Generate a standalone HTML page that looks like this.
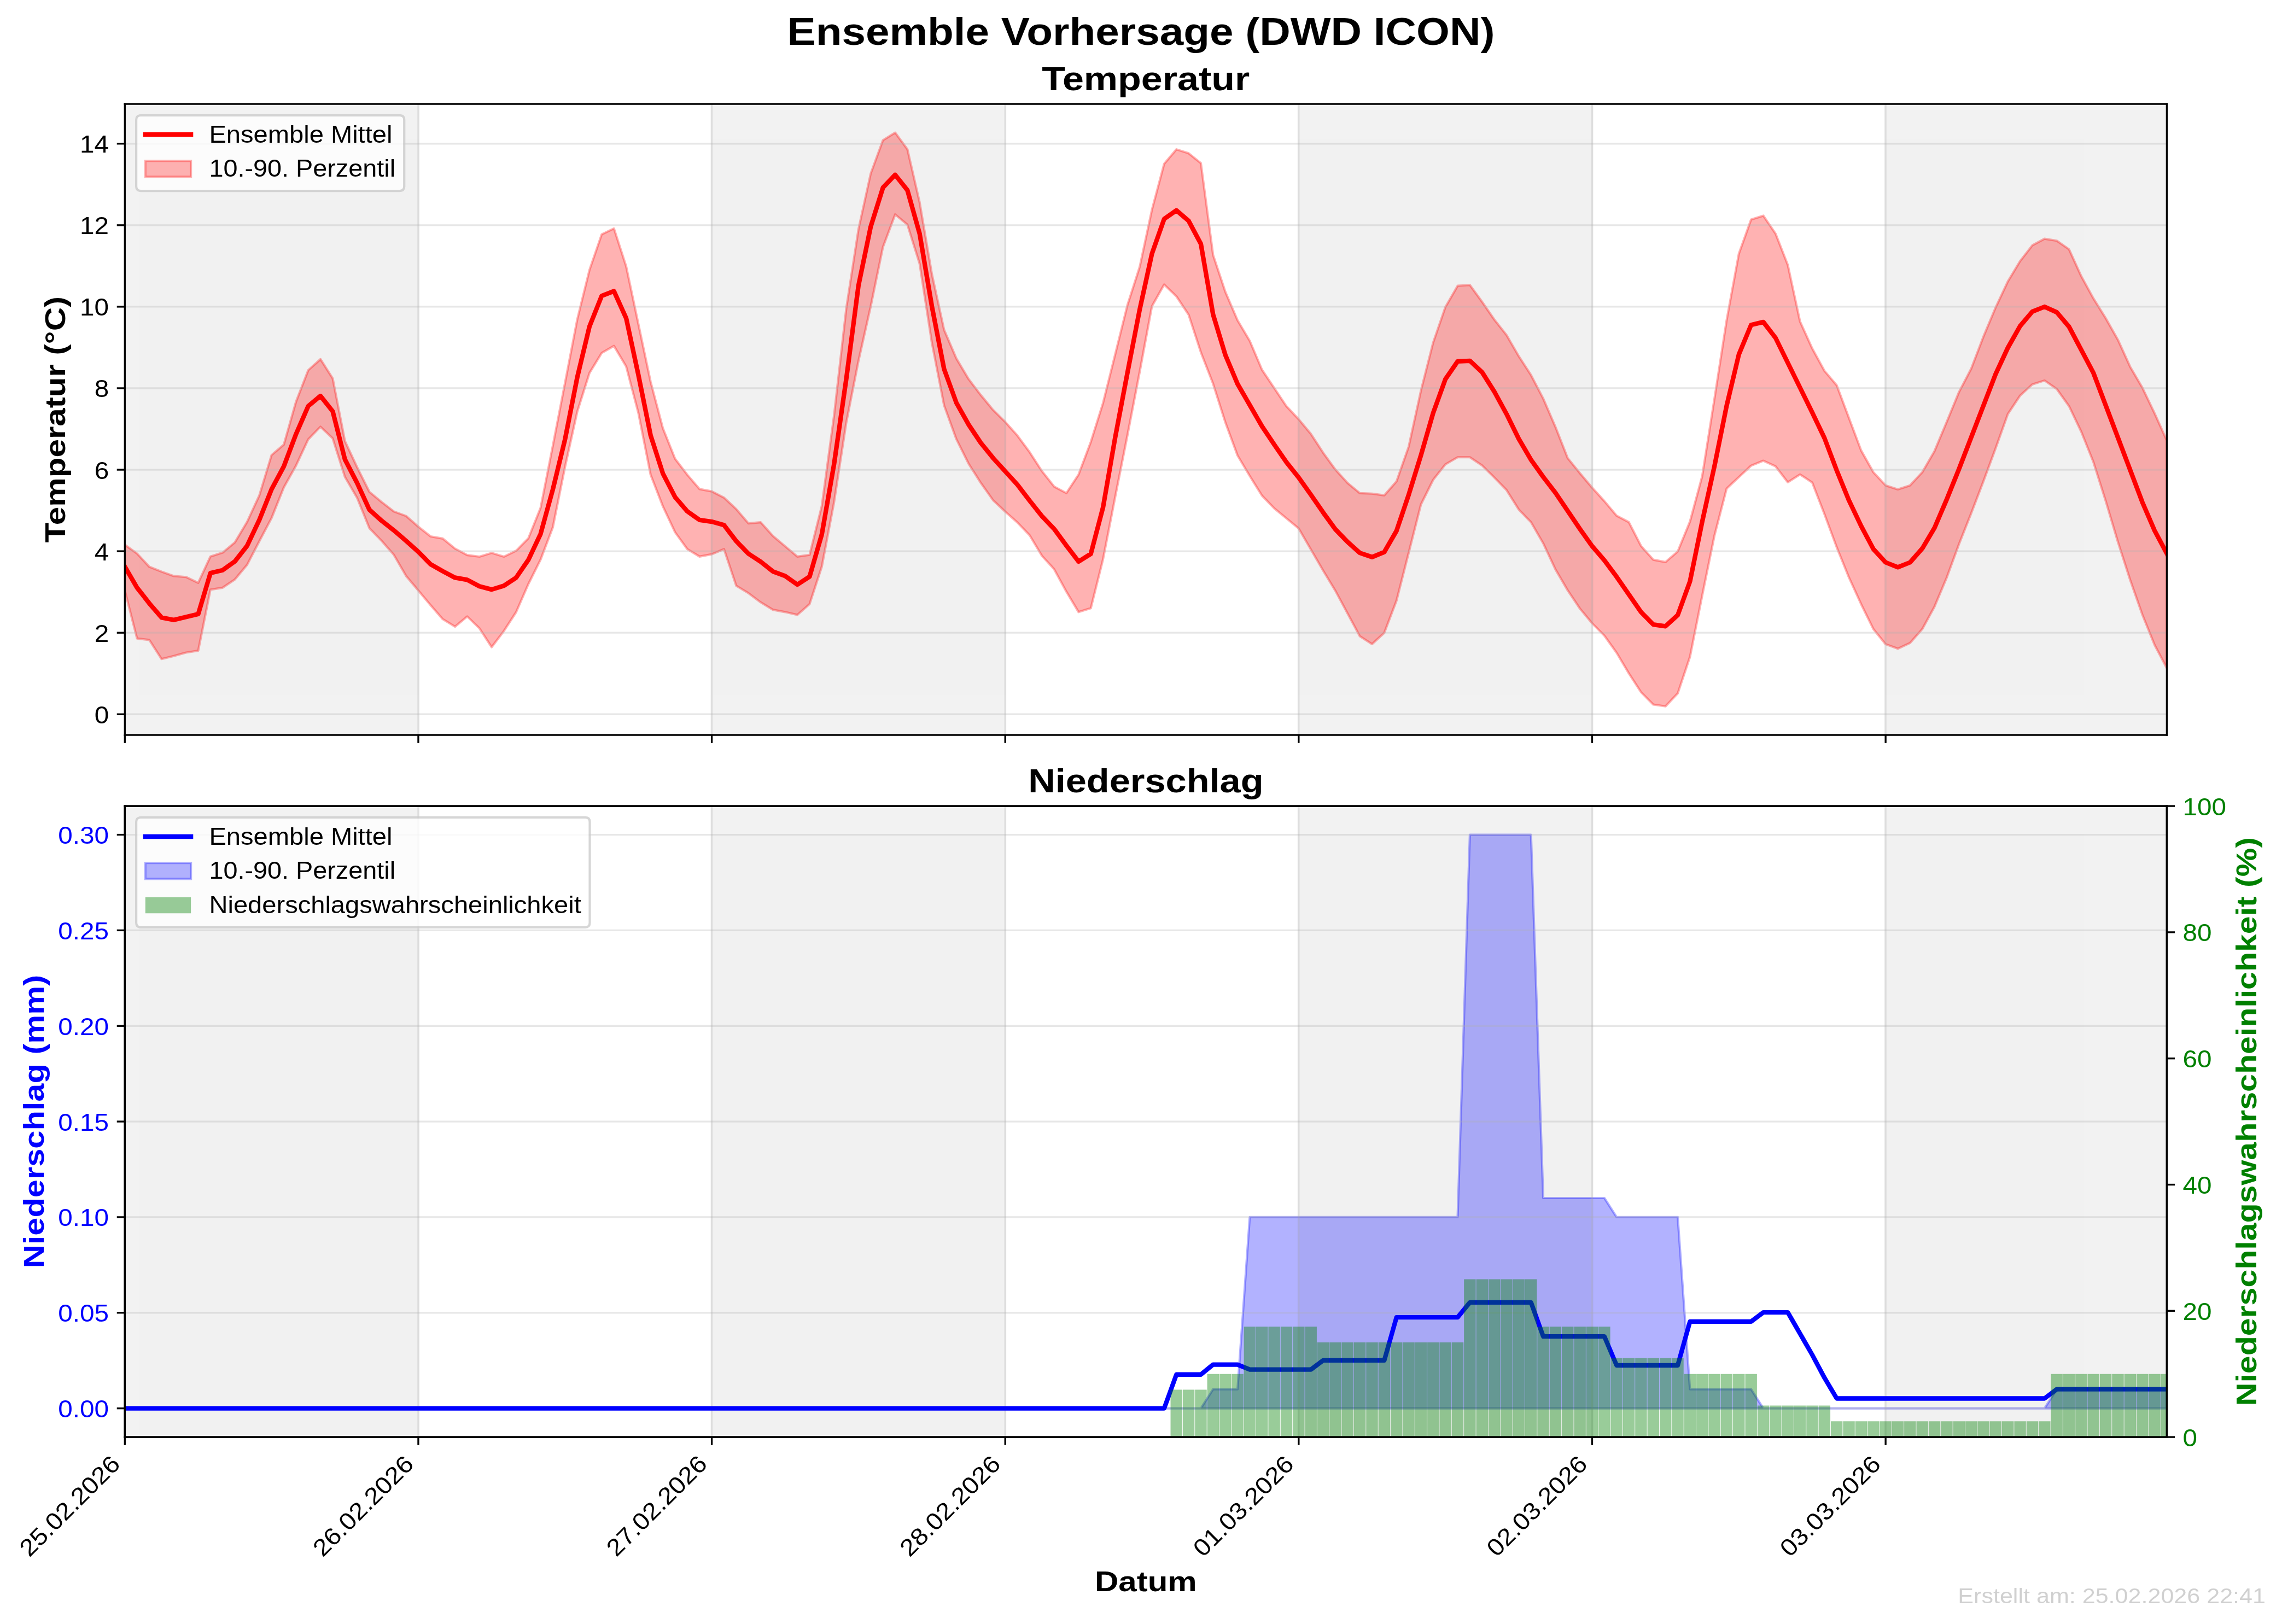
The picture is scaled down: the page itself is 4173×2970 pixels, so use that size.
<!DOCTYPE html>
<html><head><meta charset="utf-8"><title>Ensemble Vorhersage</title><style>html,body{margin:0;padding:0;background:#fff;}</style></head><body>


<svg width="4173" height="2970" viewBox="0 0 1001.52 712.8" style="display:block;will-change:transform">
  <defs>
  <style type="text/css">*{stroke-linejoin: round; stroke-linecap: butt}</style>
 </defs>
 <g id="figure_1">
  <g id="patch_1">
   <path d="M 0 712.8 L 1001.52 712.8 L 1001.52 0 L 0 0 z
" style="fill: #ffffff"/>
  </g>
  <g id="axes_1">
   <g id="patch_2">
    <path d="M 54.792 322.608 L 950.976 322.608 L 950.976 45.624 L 54.792 45.624 z
" style="fill: #ffffff"/>
   </g>
   <g id="patch_3">
    <path d="M 54.792 322.608 L 183.58491 322.608 L 183.58491 45.624 L 54.792 45.624 z
" clip-path="url(#p4535d0e13f)" style="fill: #808080; opacity: 0.1; stroke: #808080; stroke-linejoin: miter"/>
   </g>
   <g id="patch_4">
    <path d="M 312.37782 322.608 L 441.170731 322.608 L 441.170731 45.624 L 312.37782 45.624 z
" clip-path="url(#p4535d0e13f)" style="fill: #808080; opacity: 0.1; stroke: #808080; stroke-linejoin: miter"/>
   </g>
   <g id="patch_5">
    <path d="M 569.963641 322.608 L 698.756551 322.608 L 698.756551 45.624 L 569.963641 45.624 z
" clip-path="url(#p4535d0e13f)" style="fill: #808080; opacity: 0.1; stroke: #808080; stroke-linejoin: miter"/>
   </g>
   <g id="patch_6">
    <path d="M 827.549461 322.608 L 956.342371 322.608 L 956.342371 45.624 L 827.549461 45.624 z
" clip-path="url(#p4535d0e13f)" style="fill: #808080; opacity: 0.1; stroke: #808080; stroke-linejoin: miter"/>
   </g>
   <g id="FillBetweenPolyCollection_1">
    <defs>
     <path id="maa89b597c2" d="M 54.792 -473.68716 L 54.792 -453.551734 L 60.158371 -432.559481 L 65.524743 -431.916861 L 70.891114 -423.562801 L 76.257485 -424.848041 L 81.623856 -426.347488 L 86.990228 -427.204315 L 92.356599 -453.980147 L 97.72297 -454.836974 L 103.089341 -458.478487 L 108.455713 -464.904687 L 113.822084 -475.276265 L 119.188455 -485.433349 L 124.554826 -498.843539 L 129.921198 -508.447374 L 135.287569 -519.971975 L 140.65394 -525.503783 L 146.020311 -520.356128 L 151.386683 -503.45338 L 156.753054 -494.233699 L 162.119425 -480.941992 L 167.485796 -475.410184 L 172.852168 -469.26373 L 178.218539 -460.003283 L 183.58491 -453.619824 L 188.951281 -447.194477 L 194.317653 -441.046903 L 199.684024 -437.73667 L 205.050395 -442.229129 L 210.416766 -437.027335 L 215.783138 -428.751754 L 221.149509 -435.845109 L 226.51588 -444.12069 L 231.882251 -456.415839 L 237.248623 -467.178437 L 242.614994 -481.305551 L 247.981365 -507.878073 L 253.347737 -532.082448 L 258.714108 -549.0837 L 264.080479 -557.872234 L 269.44685 -560.974069 L 274.813222 -551.927049 L 280.179593 -531.506153 L 285.545964 -504.420305 L 290.912335 -490.589234 L 296.278707 -479.187879 L 301.645078 -471.779717 L 307.011449 -468.515548 L 312.37782 -469.519907 L 317.744192 -471.779717 L 323.110563 -455.709958 L 328.476934 -452.445788 L 333.843305 -448.428349 L 339.209677 -445.164179 L 344.576048 -444.159819 L 349.942419 -442.904369 L 355.30879 -447.675079 L 360.675162 -464.098422 L 366.041533 -492.292294 L 371.407904 -527.281473 L 376.774275 -554.41085 L 382.140647 -578.348535 L 387.507018 -604.346989 L 392.873389 -618.660845 L 398.23976 -614.170224 L 403.606132 -597.049729 L 408.972503 -562.390078 L 414.338874 -534.86174 L 419.705246 -520.100167 L 425.071617 -509.328209 L 430.437988 -500.870761 L 435.804359 -493.286383 L 441.170731 -488.233606 L 446.537102 -483.461539 L 451.903473 -477.847343 L 457.269844 -468.864628 L 462.636216 -462.969722 L 468.002587 -453.144878 L 473.368958 -444.162164 L 478.735329 -445.846423 L 484.101701 -467.364054 L 489.468072 -494.859346 L 494.834443 -521.873377 L 500.200814 -549.655124 L 505.567186 -578.402286 L 510.933557 -587.908179 L 516.299928 -582.723147 L 521.666299 -574.65754 L 527.032671 -558.187615 L 532.399042 -544.361193 L 537.765413 -527.462233 L 543.131784 -512.867677 L 548.498156 -503.878604 L 553.864527 -495.255039 L 559.230898 -489.713335 L 564.597269 -485.279971 L 569.963641 -480.846608 L 575.330012 -471.610434 L 580.696383 -462.37426 L 586.062754 -453.507534 L 591.429126 -443.532466 L 596.795497 -433.557398 L 602.161868 -430.084597 L 607.52824 -435.035186 L 612.894611 -449.136231 L 618.260982 -470.216549 L 623.627353 -491.402612 L 628.993725 -502.204908 L 634.360096 -508.987745 L 639.726467 -512.102826 L 645.092838 -512.102826 L 650.45921 -508.485313 L 655.825581 -503.209773 L 661.191952 -497.683016 L 666.558323 -489.141666 L 671.924695 -483.61491 L 677.291066 -474.319911 L 682.657437 -462.878569 L 688.023808 -453.6963 L 693.39018 -445.684434 L 698.756551 -439.223251 L 704.122922 -433.795858 L 709.489293 -426.300886 L 714.855665 -417.255231 L 720.222036 -408.984917 L 725.588407 -403.557524 L 730.954778 -402.782182 L 736.32115 -408.468022 L 741.687521 -424.491755 L 747.053892 -451.370274 L 752.420263 -477.668951 L 757.786635 -498.358107 L 763.153006 -503.382617 L 768.519377 -508.407126 L 773.885749 -510.594266 L 779.25212 -508.111567 L 784.618491 -501.136366 L 789.984862 -504.564854 L 795.351234 -501.018142 L 800.717605 -487.126851 L 806.083976 -472.644441 L 811.450347 -459.372142 L 816.816719 -447.608996 L 822.18309 -436.704655 L 827.549461 -430.055667 L 832.915832 -428.087566 L 838.282204 -430.587586 L 843.648575 -436.704655 L 849.014946 -446.545158 L 854.381317 -459.311216 L 859.747689 -473.938991 L 865.11406 -487.489254 L 870.480431 -501.540985 L 875.846802 -516.052303 L 881.213174 -531.098667 L 886.579545 -539.163111 L 891.945916 -544.059381 L 897.312287 -545.787476 L 902.678659 -542.04327 L 908.04503 -534.554857 L 913.411401 -523.322238 L 918.777772 -509.93506 L 924.144144 -492.942719 L 929.510515 -474.930838 L 934.876886 -458.278344 L 940.243257 -442.985237 L 945.609629 -429.731212 L 950.976 -419.535807 L 950.976 -519.450771 L 950.976 -519.450771 L 945.609629 -531.386683 L 940.243257 -542.619302 L 934.876886 -551.83581 L 929.510515 -563.64446 L 924.144144 -573.148984 L 918.777772 -581.78946 L 913.411401 -591.582 L 908.04503 -603.390651 L 902.678659 -607.134857 L 897.312287 -607.998905 L 891.945916 -605.118746 L 886.579545 -598.206365 L 881.213174 -589.277873 L 875.846802 -577.846313 L 870.480431 -565.039651 L 865.11406 -550.977434 L 859.747689 -540.681883 L 854.381317 -527.62411 L 849.014946 -514.817449 L 843.648575 -505.526341 L 838.282204 -499.750788 L 832.915832 -497.993011 L 827.549461 -499.750788 L 822.18309 -505.526341 L 816.816719 -515.06856 L 811.450347 -529.381887 L 806.083976 -543.695215 L 800.717605 -550.015784 L 795.351234 -559.836782 L 789.984862 -571.725357 L 784.618491 -596.536298 L 779.25212 -610.234005 L 773.885749 -618.142493 L 768.519377 -616.436741 L 763.153006 -601.446797 L 757.786635 -572.242252 L 752.420263 -537.667505 L 747.053892 -503.783778 L 741.687521 -483.86107 L 736.32115 -470.753822 L 730.954778 -466.101771 L 725.588407 -467.13556 L 720.222036 -473.153168 L 714.855665 -483.624746 L 709.489293 -486.460635 L 704.122922 -492.841385 L 698.756551 -498.749486 L 693.39018 -505.130236 L 688.023808 -511.74731 L 682.657437 -525.394063 L 677.291066 -537.865046 L 671.924695 -548.16491 L 666.558323 -556.455044 L 661.191952 -565.750043 L 655.825581 -572.53288 L 650.45921 -580.320582 L 645.092838 -587.706338 L 639.726467 -587.354635 L 634.360096 -578.059636 L 628.993725 -562.484232 L 623.627353 -541.382073 L 618.260982 -516.82417 L 612.894611 -501.493448 L 607.52824 -495.402818 L 602.161868 -496.141712 L 596.795497 -496.36338 L 591.429126 -500.796743 L 586.062754 -506.707894 L 580.696383 -514.096833 L 575.330012 -522.320936 L 569.963641 -528.784068 L 564.597269 -534.471624 L 559.230898 -542.485908 L 553.864527 -550.500192 L 548.498156 -563.16793 L 543.131784 -572.216315 L 537.765413 -584.739548 L 532.399042 -600.870761 L 527.032671 -641.198793 L 521.666299 -645.519653 L 516.299928 -647.247998 L 510.933557 -640.910735 L 505.567186 -620.74672 L 500.200814 -595.685728 L 494.834443 -578.978401 L 489.468072 -557.41948 L 484.101701 -535.911713 L 478.735329 -518.830978 L 473.368958 -504.514776 L 468.002587 -496.374191 L 462.636216 -499.248566 L 457.269844 -506.028563 L 451.903473 -514.315227 L 446.537102 -521.597446 L 441.170731 -527.62411 L 435.804359 -532.897442 L 430.437988 -539.426328 L 425.071617 -546.457436 L 419.705246 -555.497433 L 414.338874 -568.052983 L 408.972503 -592.559107 L 403.606132 -623.993458 L 398.23976 -647.288558 L 392.873389 -654.585818 L 387.507018 -651.217852 L 382.140647 -636.623332 L 376.774275 -612.205577 L 371.407904 -577.397143 L 366.041533 -530.366243 L 360.675162 -490.719789 L 355.30879 -469.268817 L 349.942419 -468.515548 L 344.576048 -473.035167 L 339.209677 -477.554787 L 333.843305 -483.580947 L 328.476934 -483.078767 L 323.110563 -489.356016 L 317.744192 -494.377816 L 312.37782 -497.139806 L 307.011449 -498.144166 L 301.645078 -504.421416 L 296.278707 -511.451518 L 290.912335 -524.878765 L 285.545964 -545.221966 L 280.179593 -570.545842 L 274.813222 -595.869717 L 269.44685 -612.516234 L 264.080479 -609.931371 L 258.714108 -594.3188 L 253.347737 -572.605952 L 247.981365 -544.76093 L 242.614994 -517.098787 L 237.248623 -489.883774 L 231.882251 -476.513679 L 226.51588 -471.07544 L 221.149509 -468.474543 L 215.783138 -470.129659 L 210.416766 -468.474543 L 205.050395 -469.183878 L 199.684024 -472.021221 L 194.317653 -476.419101 L 188.951281 -477.364882 L 183.58491 -481.636055 L 178.218539 -486.334969 L 172.852168 -488.317737 L 167.485796 -492.466593 L 162.119425 -496.922773 L 156.753054 -507.679067 L 151.386683 -519.203668 L 146.020311 -546.709049 L 140.65394 -555.160423 L 135.287569 -550.32009 L 129.921198 -536.490569 L 124.554826 -517.667054 L 119.188455 -513.057214 L 113.822084 -495.386159 L 108.455713 -483.754873 L 103.089341 -474.758193 L 97.72297 -470.259854 L 92.356599 -468.5462 L 86.990228 -456.979041 L 81.623856 -459.54952 L 76.257485 -459.977934 L 70.891114 -461.905794 L 65.524743 -464.04786 L 60.158371 -469.83144 L 54.792 -473.68716 z
" style="stroke: #ff0000; stroke-opacity: 0.3"/>
    </defs>
    <g clip-path="url(#p4535d0e13f)">
     <use href="#maa89b597c2" x="0" y="712.8" style="fill: #ff0000; fill-opacity: 0.3; stroke: #ff0000; stroke-opacity: 0.3"/>
    </g>
   </g>
   <g id="matplotlib.axis_1">
    <g id="xtick_1">
     <g id="line2d_1">
      <path d="M 54.792 322.608 L 54.792 45.624 " clip-path="url(#p4535d0e13f)" style="fill: none; stroke: #b0b0b0; stroke-opacity: 0.3; stroke-width: 0.8; stroke-linecap: square"/>
     </g>
     <g id="line2d_2">
      <defs>
       <path id="m2624971876" d="M 0 0 L 0 3.5 " style="stroke: #000000; stroke-width: 0.8"/>
      </defs>
      <g>
       <use href="#m2624971876" x="54.792" y="322.608" style="stroke: #000000; stroke-width: 0.8"/>
      </g>
     </g>
    </g>
    <g id="xtick_2">
     <g id="line2d_3">
      <path d="M 183.58491 322.608 L 183.58491 45.624 " clip-path="url(#p4535d0e13f)" style="fill: none; stroke: #b0b0b0; stroke-opacity: 0.3; stroke-width: 0.8; stroke-linecap: square"/>
     </g>
     <g id="line2d_4">
      <g>
       <use href="#m2624971876" x="183.58491" y="322.608" style="stroke: #000000; stroke-width: 0.8"/>
      </g>
     </g>
    </g>
    <g id="xtick_3">
     <g id="line2d_5">
      <path d="M 312.37782 322.608 L 312.37782 45.624 " clip-path="url(#p4535d0e13f)" style="fill: none; stroke: #b0b0b0; stroke-opacity: 0.3; stroke-width: 0.8; stroke-linecap: square"/>
     </g>
     <g id="line2d_6">
      <g>
       <use href="#m2624971876" x="312.37782" y="322.608" style="stroke: #000000; stroke-width: 0.8"/>
      </g>
     </g>
    </g>
    <g id="xtick_4">
     <g id="line2d_7">
      <path d="M 441.170731 322.608 L 441.170731 45.624 " clip-path="url(#p4535d0e13f)" style="fill: none; stroke: #b0b0b0; stroke-opacity: 0.3; stroke-width: 0.8; stroke-linecap: square"/>
     </g>
     <g id="line2d_8">
      <g>
       <use href="#m2624971876" x="441.170731" y="322.608" style="stroke: #000000; stroke-width: 0.8"/>
      </g>
     </g>
    </g>
    <g id="xtick_5">
     <g id="line2d_9">
      <path d="M 569.963641 322.608 L 569.963641 45.624 " clip-path="url(#p4535d0e13f)" style="fill: none; stroke: #b0b0b0; stroke-opacity: 0.3; stroke-width: 0.8; stroke-linecap: square"/>
     </g>
     <g id="line2d_10">
      <g>
       <use href="#m2624971876" x="569.963641" y="322.608" style="stroke: #000000; stroke-width: 0.8"/>
      </g>
     </g>
    </g>
    <g id="xtick_6">
     <g id="line2d_11">
      <path d="M 698.756551 322.608 L 698.756551 45.624 " clip-path="url(#p4535d0e13f)" style="fill: none; stroke: #b0b0b0; stroke-opacity: 0.3; stroke-width: 0.8; stroke-linecap: square"/>
     </g>
     <g id="line2d_12">
      <g>
       <use href="#m2624971876" x="698.756551" y="322.608" style="stroke: #000000; stroke-width: 0.8"/>
      </g>
     </g>
    </g>
    <g id="xtick_7">
     <g id="line2d_13">
      <path d="M 827.549461 322.608 L 827.549461 45.624 " clip-path="url(#p4535d0e13f)" style="fill: none; stroke: #b0b0b0; stroke-opacity: 0.3; stroke-width: 0.8; stroke-linecap: square"/>
     </g>
     <g id="line2d_14">
      <g>
       <use href="#m2624971876" x="827.549461" y="322.608" style="stroke: #000000; stroke-width: 0.8"/>
      </g>
     </g>
    </g>
   </g>
   <g id="matplotlib.axis_2">
    <g id="ytick_1">
     <g id="line2d_15">
      <path d="M 54.792 313.497388 L 950.976 313.497388 " clip-path="url(#p4535d0e13f)" style="fill: none; stroke: #b0b0b0; stroke-opacity: 0.3; stroke-width: 0.8; stroke-linecap: square"/>
     </g>
     <g id="line2d_16">
      <defs>
       <path id="m23702a139f" d="M 0 0 L -3.5 0 " style="stroke: #000000; stroke-width: 0.8"/>
      </defs>
      <g>
       <use href="#m23702a139f" x="54.792" y="313.497388" style="stroke: #000000; stroke-width: 0.8"/>
      </g>
     </g>
     <g id="text_1">
      <text style='font-size: 10.500px; font-family: "Liberation Sans", sans-serif; text-anchor: end' x="47.792" y="317.457388" transform="rotate(-0 47.792 317.457388)" textLength="6.362" lengthAdjust="spacingAndGlyphs">0</text>
     </g>
    </g>
    <g id="ytick_2">
     <g id="line2d_17">
      <path d="M 54.792 277.721791 L 950.976 277.721791 " clip-path="url(#p4535d0e13f)" style="fill: none; stroke: #b0b0b0; stroke-opacity: 0.3; stroke-width: 0.8; stroke-linecap: square"/>
     </g>
     <g id="line2d_18">
      <g>
       <use href="#m23702a139f" x="54.792" y="277.721791" style="stroke: #000000; stroke-width: 0.8"/>
      </g>
     </g>
     <g id="text_2">
      <text style='font-size: 10.500px; font-family: "Liberation Sans", sans-serif; text-anchor: end' x="47.792" y="281.681791" transform="rotate(-0 47.792 281.681791)" textLength="6.362" lengthAdjust="spacingAndGlyphs">2</text>
     </g>
    </g>
    <g id="ytick_3">
     <g id="line2d_19">
      <path d="M 54.792 241.946194 L 950.976 241.946194 " clip-path="url(#p4535d0e13f)" style="fill: none; stroke: #b0b0b0; stroke-opacity: 0.3; stroke-width: 0.8; stroke-linecap: square"/>
     </g>
     <g id="line2d_20">
      <g>
       <use href="#m23702a139f" x="54.792" y="241.946194" style="stroke: #000000; stroke-width: 0.8"/>
      </g>
     </g>
     <g id="text_3">
      <text style='font-size: 10.500px; font-family: "Liberation Sans", sans-serif; text-anchor: end' x="47.792" y="245.906194" transform="rotate(-0 47.792 245.906194)" textLength="6.362" lengthAdjust="spacingAndGlyphs">4</text>
     </g>
    </g>
    <g id="ytick_4">
     <g id="line2d_21">
      <path d="M 54.792 206.170597 L 950.976 206.170597 " clip-path="url(#p4535d0e13f)" style="fill: none; stroke: #b0b0b0; stroke-opacity: 0.3; stroke-width: 0.8; stroke-linecap: square"/>
     </g>
     <g id="line2d_22">
      <g>
       <use href="#m23702a139f" x="54.792" y="206.170597" style="stroke: #000000; stroke-width: 0.8"/>
      </g>
     </g>
     <g id="text_4">
      <text style='font-size: 10.500px; font-family: "Liberation Sans", sans-serif; text-anchor: end' x="47.792" y="210.130597" transform="rotate(-0 47.792 210.130597)" textLength="6.362" lengthAdjust="spacingAndGlyphs">6</text>
     </g>
    </g>
    <g id="ytick_5">
     <g id="line2d_23">
      <path d="M 54.792 170.395 L 950.976 170.395 " clip-path="url(#p4535d0e13f)" style="fill: none; stroke: #b0b0b0; stroke-opacity: 0.3; stroke-width: 0.8; stroke-linecap: square"/>
     </g>
     <g id="line2d_24">
      <g>
       <use href="#m23702a139f" x="54.792" y="170.395" style="stroke: #000000; stroke-width: 0.8"/>
      </g>
     </g>
     <g id="text_5">
      <text style='font-size: 10.500px; font-family: "Liberation Sans", sans-serif; text-anchor: end' x="47.792" y="174.355" transform="rotate(-0 47.792 174.355)" textLength="6.362" lengthAdjust="spacingAndGlyphs">8</text>
     </g>
    </g>
    <g id="ytick_6">
     <g id="line2d_25">
      <path d="M 54.792 134.619403 L 950.976 134.619403 " clip-path="url(#p4535d0e13f)" style="fill: none; stroke: #b0b0b0; stroke-opacity: 0.3; stroke-width: 0.8; stroke-linecap: square"/>
     </g>
     <g id="line2d_26">
      <g>
       <use href="#m23702a139f" x="54.792" y="134.619403" style="stroke: #000000; stroke-width: 0.8"/>
      </g>
     </g>
     <g id="text_6">
      <text style='font-size: 10.500px; font-family: "Liberation Sans", sans-serif; text-anchor: end' x="47.792" y="138.579403" transform="rotate(-0 47.792 138.579403)" textLength="12.725" lengthAdjust="spacingAndGlyphs">10</text>
     </g>
    </g>
    <g id="ytick_7">
     <g id="line2d_27">
      <path d="M 54.792 98.843806 L 950.976 98.843806 " clip-path="url(#p4535d0e13f)" style="fill: none; stroke: #b0b0b0; stroke-opacity: 0.3; stroke-width: 0.8; stroke-linecap: square"/>
     </g>
     <g id="line2d_28">
      <g>
       <use href="#m23702a139f" x="54.792" y="98.843806" style="stroke: #000000; stroke-width: 0.8"/>
      </g>
     </g>
     <g id="text_7">
      <text style='font-size: 10.500px; font-family: "Liberation Sans", sans-serif; text-anchor: end' x="47.792" y="102.803806" transform="rotate(-0 47.792 102.803806)" textLength="12.725" lengthAdjust="spacingAndGlyphs">12</text>
     </g>
    </g>
    <g id="ytick_8">
     <g id="line2d_29">
      <path d="M 54.792 63.068209 L 950.976 63.068209 " clip-path="url(#p4535d0e13f)" style="fill: none; stroke: #b0b0b0; stroke-opacity: 0.3; stroke-width: 0.8; stroke-linecap: square"/>
     </g>
     <g id="line2d_30">
      <g>
       <use href="#m23702a139f" x="54.792" y="63.068209" style="stroke: #000000; stroke-width: 0.8"/>
      </g>
     </g>
     <g id="text_8">
      <text style='font-size: 10.500px; font-family: "Liberation Sans", sans-serif; text-anchor: end' x="47.792" y="67.028209" transform="rotate(-0 47.792 67.028209)" textLength="12.725" lengthAdjust="spacingAndGlyphs">14</text>
     </g>
    </g>
    <g id="text_9">
     <text style='font-weight: 700; font-size: 12.600px; font-family: "Liberation Sans", sans-serif; text-anchor: middle' x="28.672" y="184.116" transform="rotate(-90 28.672 184.116)" textLength="108.129" lengthAdjust="spacingAndGlyphs">Temperatur (°C)</text>
    </g>
   </g>
   <g id="line2d_31">
    <path d="M 54.792 248.75214 L 60.158371 257.963026 L 65.524743 264.817639 L 70.891114 271.029632 L 76.257485 272.100666 L 86.990228 269.530186 L 92.356599 251.536826 L 97.72297 250.251586 L 103.089341 246.395866 L 108.455713 239.541253 L 113.822084 228.1883 L 119.188455 214.724767 L 124.554826 204.73678 L 129.921198 190.523105 L 135.287569 178.230198 L 140.65394 173.774018 L 146.020311 180.535118 L 151.386683 201.663553 L 156.753054 212.035694 L 162.119425 223.713956 L 167.485796 228.554289 L 172.852168 232.779976 L 178.218539 237.384813 L 183.58491 242.172408 L 188.951281 247.635689 L 194.317653 250.709477 L 199.684024 253.546819 L 205.050395 254.4926 L 210.416766 257.329942 L 215.783138 258.748613 L 221.149509 257.093496 L 226.51588 253.546819 L 231.882251 245.744128 L 237.248623 234.353857 L 242.614994 214.862596 L 247.981365 192.819739 L 253.347737 165.618632 L 258.714108 143.295884 L 264.080479 129.854597 L 269.44685 127.786707 L 274.813222 139.677076 L 280.179593 164.581302 L 285.545964 191.090856 L 290.912335 207.8034 L 296.278707 218.192428 L 301.645078 224.448344 L 307.011449 228.214693 L 312.37782 228.967963 L 317.744192 230.474503 L 323.110563 237.505023 L 328.476934 243.029003 L 333.843305 246.544262 L 339.209677 250.812792 L 344.576048 252.821512 L 349.942419 256.587862 L 355.30879 253.072602 L 360.675162 234.541362 L 366.041533 203.785877 L 371.407904 166.368379 L 376.774275 125.284097 L 382.140647 99.471768 L 387.507018 82.351273 L 392.873389 76.737996 L 398.23976 83.473928 L 403.606132 102.55907 L 408.972503 134.39989 L 414.338874 161.979803 L 419.705246 176.741376 L 425.071617 186.31645 L 430.437988 194.368854 L 435.804359 200.986768 L 446.537102 212.776581 L 451.903473 219.794326 L 457.269844 226.531362 L 462.636216 232.145559 L 468.002587 239.444014 L 473.368958 246.46176 L 478.735329 243.093242 L 484.101701 222.666909 L 489.468072 191.790304 L 494.834443 163.480752 L 500.200814 135.793089 L 505.567186 111.353124 L 510.933557 96.086084 L 516.299928 92.341338 L 521.666299 96.950256 L 527.032671 107.032264 L 532.399042 138.050137 L 537.765413 155.764587 L 543.131784 168.504415 L 553.864527 187.118235 L 559.230898 195.132519 L 564.597269 202.888278 L 569.963641 209.609935 L 575.330012 217.175514 L 580.696383 224.9339 L 586.062754 232.322839 L 591.429126 237.864543 L 596.795497 242.667354 L 602.161868 244.514588 L 607.52824 242.297907 L 612.894611 233.007533 L 618.260982 217.091998 L 623.627353 199.792796 L 628.993725 181.215359 L 634.360096 166.393604 L 639.726467 158.605902 L 645.092838 158.354686 L 650.45921 163.379009 L 655.825581 171.92036 L 661.191952 181.717791 L 666.558323 192.639415 L 671.924695 201.802526 L 677.291066 209.339011 L 682.657437 216.305032 L 693.39018 232.17347 L 698.756551 239.720152 L 704.122922 245.922888 L 709.489293 253.159412 L 720.222036 268.66625 L 725.588407 274.093643 L 730.954778 274.868985 L 736.32115 269.958487 L 741.687521 255.22699 L 747.053892 228.990641 L 752.420263 204.688433 L 757.786635 178.088089 L 763.153006 155.547691 L 768.519377 142.625326 L 773.885749 141.33309 L 779.25212 148.311167 L 795.351234 181.066262 L 800.717605 192.274939 L 806.083976 206.461789 L 811.450347 219.618762 L 816.816719 230.882223 L 822.18309 240.988686 L 827.549461 246.839796 L 832.915832 248.967472 L 838.282204 246.839796 L 843.648575 240.722726 L 849.014946 231.680102 L 854.381317 219.180004 L 859.747689 205.882027 L 875.846802 164.132365 L 881.213174 152.61173 L 886.579545 143.107206 L 891.945916 136.770857 L 897.312287 134.63954 L 902.678659 137.058873 L 908.04503 143.395222 L 918.777772 163.720663 L 940.243257 220.459724 L 945.609629 232.887138 L 950.976 242.939428 L 950.976 242.939428 " clip-path="url(#p4535d0e13f)" style="fill: none; stroke: #ff0000; stroke-width: 2; stroke-linecap: square"/>
   </g>
   <g id="patch_7">
    <path d="M 54.792 322.608 L 54.792 45.624 " style="fill: none; stroke: #000000; stroke-width: 0.8; stroke-linejoin: miter; stroke-linecap: square"/>
   </g>
   <g id="patch_8">
    <path d="M 950.976 322.608 L 950.976 45.624 " style="fill: none; stroke: #000000; stroke-width: 0.8; stroke-linejoin: miter; stroke-linecap: square"/>
   </g>
   <g id="patch_9">
    <path d="M 54.792 322.608 L 950.976 322.608 " style="fill: none; stroke: #000000; stroke-width: 0.8; stroke-linejoin: miter; stroke-linecap: square"/>
   </g>
   <g id="patch_10">
    <path d="M 54.792 45.624 L 950.976 45.624 " style="fill: none; stroke: #000000; stroke-width: 0.8; stroke-linejoin: miter; stroke-linecap: square"/>
   </g>
   <g id="text_10">
    <text style='font-weight: 700; font-size: 14.700px; font-family: "Liberation Sans", sans-serif; text-anchor: middle' x="502.884" y="39.624" transform="rotate(-0 502.884 39.624)" textLength="91.206" lengthAdjust="spacingAndGlyphs">Temperatur</text>
   </g>
   <g id="legend_1">
    <g id="patch_11">
     <path d="M 61.792 83.784 L 175.422 83.784 Q 177.422 83.784 177.422 81.784 L 177.422 52.624 Q 177.422 50.624 175.422 50.624 L 61.792 50.624 Q 59.792 50.624 59.792 52.624 L 59.792 81.784 Q 59.792 83.784 61.792 83.784 z
" style="fill: #ffffff; opacity: 0.8; stroke: #cccccc; stroke-linejoin: miter"/>
    </g>
    <g id="line2d_32">
     <path d="M 63.792 59.044 L 73.792 59.044 L 83.792 59.044 " style="fill: none; stroke: #ff0000; stroke-width: 2; stroke-linecap: square"/>
    </g>
    <g id="text_11">
     <text style='font-size: 10.500px; font-family: "Liberation Sans", sans-serif; text-anchor: start' x="91.792" y="62.544" transform="rotate(-0 91.792 62.544)" textLength="80.396" lengthAdjust="spacingAndGlyphs">Ensemble Mittel</text>
    </g>
    <g id="patch_12">
     <path d="M 63.792 77.624 L 83.792 77.624 L 83.792 70.624 L 63.792 70.624 z
" style="fill: #ff0000; fill-opacity: 0.3; stroke: #ff0000; stroke-opacity: 0.3; stroke-linejoin: miter"/>
    </g>
    <g id="text_12">
     <text style='font-size: 10.500px; font-family: "Liberation Sans", sans-serif; text-anchor: start' x="91.792" y="77.624" transform="rotate(-0 91.792 77.624)" textLength="81.749" lengthAdjust="spacingAndGlyphs">10.-90. Perzentil</text>
    </g>
   </g>
  </g>
  <g id="axes_2">
   <g id="patch_13">
    <path d="M 54.792 630.744 L 950.976 630.744 L 950.976 353.784 L 54.792 353.784 z
" style="fill: #ffffff"/>
   </g>
   <g id="patch_14">
    <path d="M 54.792 630.744 L 183.58491 630.744 L 183.58491 353.784 L 54.792 353.784 z
" clip-path="url(#p49764ec67e)" style="fill: #808080; opacity: 0.1; stroke: #808080; stroke-linejoin: miter"/>
   </g>
   <g id="patch_15">
    <path d="M 312.37782 630.744 L 441.170731 630.744 L 441.170731 353.784 L 312.37782 353.784 z
" clip-path="url(#p49764ec67e)" style="fill: #808080; opacity: 0.1; stroke: #808080; stroke-linejoin: miter"/>
   </g>
   <g id="patch_16">
    <path d="M 569.963641 630.744 L 698.756551 630.744 L 698.756551 353.784 L 569.963641 353.784 z
" clip-path="url(#p49764ec67e)" style="fill: #808080; opacity: 0.1; stroke: #808080; stroke-linejoin: miter"/>
   </g>
   <g id="patch_17">
    <path d="M 827.549461 630.744 L 956.342371 630.744 L 956.342371 353.784 L 827.549461 353.784 z
" clip-path="url(#p49764ec67e)" style="fill: #808080; opacity: 0.1; stroke: #808080; stroke-linejoin: miter"/>
   </g>
   <g id="FillBetweenPolyCollection_2">
    <defs>
     <path id="mdaa3f5fe73" d="M 54.792 -94.645091 L 54.792 -94.645091 L 60.158371 -94.645091 L 65.524743 -94.645091 L 70.891114 -94.645091 L 76.257485 -94.645091 L 81.623856 -94.645091 L 86.990228 -94.645091 L 92.356599 -94.645091 L 97.72297 -94.645091 L 103.089341 -94.645091 L 108.455713 -94.645091 L 113.822084 -94.645091 L 119.188455 -94.645091 L 124.554826 -94.645091 L 129.921198 -94.645091 L 135.287569 -94.645091 L 140.65394 -94.645091 L 146.020311 -94.645091 L 151.386683 -94.645091 L 156.753054 -94.645091 L 162.119425 -94.645091 L 167.485796 -94.645091 L 172.852168 -94.645091 L 178.218539 -94.645091 L 183.58491 -94.645091 L 188.951281 -94.645091 L 194.317653 -94.645091 L 199.684024 -94.645091 L 205.050395 -94.645091 L 210.416766 -94.645091 L 215.783138 -94.645091 L 221.149509 -94.645091 L 226.51588 -94.645091 L 231.882251 -94.645091 L 237.248623 -94.645091 L 242.614994 -94.645091 L 247.981365 -94.645091 L 253.347737 -94.645091 L 258.714108 -94.645091 L 264.080479 -94.645091 L 269.44685 -94.645091 L 274.813222 -94.645091 L 280.179593 -94.645091 L 285.545964 -94.645091 L 290.912335 -94.645091 L 296.278707 -94.645091 L 301.645078 -94.645091 L 307.011449 -94.645091 L 312.37782 -94.645091 L 317.744192 -94.645091 L 323.110563 -94.645091 L 328.476934 -94.645091 L 333.843305 -94.645091 L 339.209677 -94.645091 L 344.576048 -94.645091 L 349.942419 -94.645091 L 355.30879 -94.645091 L 360.675162 -94.645091 L 366.041533 -94.645091 L 371.407904 -94.645091 L 376.774275 -94.645091 L 382.140647 -94.645091 L 387.507018 -94.645091 L 392.873389 -94.645091 L 398.23976 -94.645091 L 403.606132 -94.645091 L 408.972503 -94.645091 L 414.338874 -94.645091 L 419.705246 -94.645091 L 425.071617 -94.645091 L 430.437988 -94.645091 L 435.804359 -94.645091 L 441.170731 -94.645091 L 446.537102 -94.645091 L 451.903473 -94.645091 L 457.269844 -94.645091 L 462.636216 -94.645091 L 468.002587 -94.645091 L 473.368958 -94.645091 L 478.735329 -94.645091 L 484.101701 -94.645091 L 489.468072 -94.645091 L 494.834443 -94.645091 L 500.200814 -94.645091 L 505.567186 -94.645091 L 510.933557 -94.645091 L 516.299928 -94.645091 L 521.666299 -94.645091 L 527.032671 -94.645091 L 532.399042 -94.645091 L 537.765413 -94.645091 L 543.131784 -94.645091 L 548.498156 -94.645091 L 553.864527 -94.645091 L 559.230898 -94.645091 L 564.597269 -94.645091 L 569.963641 -94.645091 L 575.330012 -94.645091 L 580.696383 -94.645091 L 586.062754 -94.645091 L 591.429126 -94.645091 L 596.795497 -94.645091 L 602.161868 -94.645091 L 607.52824 -94.645091 L 612.894611 -94.645091 L 618.260982 -94.645091 L 623.627353 -94.645091 L 628.993725 -94.645091 L 634.360096 -94.645091 L 639.726467 -94.645091 L 645.092838 -94.645091 L 650.45921 -94.645091 L 655.825581 -94.645091 L 661.191952 -94.645091 L 666.558323 -94.645091 L 671.924695 -94.645091 L 677.291066 -94.645091 L 682.657437 -94.645091 L 688.023808 -94.645091 L 693.39018 -94.645091 L 698.756551 -94.645091 L 704.122922 -94.645091 L 709.489293 -94.645091 L 714.855665 -94.645091 L 720.222036 -94.645091 L 725.588407 -94.645091 L 730.954778 -94.645091 L 736.32115 -94.645091 L 741.687521 -94.645091 L 747.053892 -94.645091 L 752.420263 -94.645091 L 757.786635 -94.645091 L 763.153006 -94.645091 L 768.519377 -94.645091 L 773.885749 -94.645091 L 779.25212 -94.645091 L 784.618491 -94.645091 L 789.984862 -94.645091 L 795.351234 -94.645091 L 800.717605 -94.645091 L 806.083976 -94.645091 L 811.450347 -94.645091 L 816.816719 -94.645091 L 822.18309 -94.645091 L 827.549461 -94.645091 L 832.915832 -94.645091 L 838.282204 -94.645091 L 843.648575 -94.645091 L 849.014946 -94.645091 L 854.381317 -94.645091 L 859.747689 -94.645091 L 865.11406 -94.645091 L 870.480431 -94.645091 L 875.846802 -94.645091 L 881.213174 -94.645091 L 886.579545 -94.645091 L 891.945916 -94.645091 L 897.312287 -94.645091 L 902.678659 -94.645091 L 908.04503 -94.645091 L 913.411401 -94.645091 L 918.777772 -94.645091 L 924.144144 -94.645091 L 929.510515 -94.645091 L 934.876886 -94.645091 L 940.243257 -94.645091 L 945.609629 -94.645091 L 950.976 -94.645091 L 950.976 -103.037818 L 950.976 -103.037818 L 945.609629 -103.037818 L 940.243257 -103.037818 L 934.876886 -103.037818 L 929.510515 -103.037818 L 924.144144 -103.037818 L 918.777772 -103.037818 L 913.411401 -103.037818 L 908.04503 -103.037818 L 902.678659 -103.037818 L 897.312287 -94.645091 L 891.945916 -94.645091 L 886.579545 -94.645091 L 881.213174 -94.645091 L 875.846802 -94.645091 L 870.480431 -94.645091 L 865.11406 -94.645091 L 859.747689 -94.645091 L 854.381317 -94.645091 L 849.014946 -94.645091 L 843.648575 -94.645091 L 838.282204 -94.645091 L 832.915832 -94.645091 L 827.549461 -94.645091 L 822.18309 -94.645091 L 816.816719 -94.645091 L 811.450347 -94.645091 L 806.083976 -94.645091 L 800.717605 -94.645091 L 795.351234 -94.645091 L 789.984862 -94.645091 L 784.618491 -94.645091 L 779.25212 -94.645091 L 773.885749 -94.645091 L 768.519377 -103.037818 L 763.153006 -103.037818 L 757.786635 -103.037818 L 752.420263 -103.037818 L 747.053892 -103.037818 L 741.687521 -103.037818 L 736.32115 -178.572364 L 730.954778 -178.572364 L 725.588407 -178.572364 L 720.222036 -178.572364 L 714.855665 -178.572364 L 709.489293 -178.572364 L 704.122922 -186.965091 L 698.756551 -186.965091 L 693.39018 -186.965091 L 688.023808 -186.965091 L 682.657437 -186.965091 L 677.291066 -186.965091 L 671.924695 -346.426909 L 666.558323 -346.426909 L 661.191952 -346.426909 L 655.825581 -346.426909 L 650.45921 -346.426909 L 645.092838 -346.426909 L 639.726467 -178.572364 L 634.360096 -178.572364 L 628.993725 -178.572364 L 623.627353 -178.572364 L 618.260982 -178.572364 L 612.894611 -178.572364 L 607.52824 -178.572364 L 602.161868 -178.572364 L 596.795497 -178.572364 L 591.429126 -178.572364 L 586.062754 -178.572364 L 580.696383 -178.572364 L 575.330012 -178.572364 L 569.963641 -178.572364 L 564.597269 -178.572364 L 559.230898 -178.572364 L 553.864527 -178.572364 L 548.498156 -178.572364 L 543.131784 -103.037818 L 537.765413 -103.037818 L 532.399042 -103.037818 L 527.032671 -94.645091 L 521.666299 -94.645091 L 516.299928 -94.645091 L 510.933557 -94.645091 L 505.567186 -94.645091 L 500.200814 -94.645091 L 494.834443 -94.645091 L 489.468072 -94.645091 L 484.101701 -94.645091 L 478.735329 -94.645091 L 473.368958 -94.645091 L 468.002587 -94.645091 L 462.636216 -94.645091 L 457.269844 -94.645091 L 451.903473 -94.645091 L 446.537102 -94.645091 L 441.170731 -94.645091 L 435.804359 -94.645091 L 430.437988 -94.645091 L 425.071617 -94.645091 L 419.705246 -94.645091 L 414.338874 -94.645091 L 408.972503 -94.645091 L 403.606132 -94.645091 L 398.23976 -94.645091 L 392.873389 -94.645091 L 387.507018 -94.645091 L 382.140647 -94.645091 L 376.774275 -94.645091 L 371.407904 -94.645091 L 366.041533 -94.645091 L 360.675162 -94.645091 L 355.30879 -94.645091 L 349.942419 -94.645091 L 344.576048 -94.645091 L 339.209677 -94.645091 L 333.843305 -94.645091 L 328.476934 -94.645091 L 323.110563 -94.645091 L 317.744192 -94.645091 L 312.37782 -94.645091 L 307.011449 -94.645091 L 301.645078 -94.645091 L 296.278707 -94.645091 L 290.912335 -94.645091 L 285.545964 -94.645091 L 280.179593 -94.645091 L 274.813222 -94.645091 L 269.44685 -94.645091 L 264.080479 -94.645091 L 258.714108 -94.645091 L 253.347737 -94.645091 L 247.981365 -94.645091 L 242.614994 -94.645091 L 237.248623 -94.645091 L 231.882251 -94.645091 L 226.51588 -94.645091 L 221.149509 -94.645091 L 215.783138 -94.645091 L 210.416766 -94.645091 L 205.050395 -94.645091 L 199.684024 -94.645091 L 194.317653 -94.645091 L 188.951281 -94.645091 L 183.58491 -94.645091 L 178.218539 -94.645091 L 172.852168 -94.645091 L 167.485796 -94.645091 L 162.119425 -94.645091 L 156.753054 -94.645091 L 151.386683 -94.645091 L 146.020311 -94.645091 L 140.65394 -94.645091 L 135.287569 -94.645091 L 129.921198 -94.645091 L 124.554826 -94.645091 L 119.188455 -94.645091 L 113.822084 -94.645091 L 108.455713 -94.645091 L 103.089341 -94.645091 L 97.72297 -94.645091 L 92.356599 -94.645091 L 86.990228 -94.645091 L 81.623856 -94.645091 L 76.257485 -94.645091 L 70.891114 -94.645091 L 65.524743 -94.645091 L 60.158371 -94.645091 L 54.792 -94.645091 z
" style="stroke: #0000ff; stroke-opacity: 0.3"/>
    </defs>
    <g clip-path="url(#p49764ec67e)">
     <use href="#mdaa3f5fe73" x="0" y="712.8" style="fill: #0000ff; fill-opacity: 0.3; stroke: #0000ff; stroke-opacity: 0.3"/>
    </g>
   </g>
   <g id="matplotlib.axis_3">
    <g id="xtick_8">
     <g id="line2d_33">
      <path d="M 54.792 630.744 L 54.792 353.784 " clip-path="url(#p49764ec67e)" style="fill: none; stroke: #b0b0b0; stroke-opacity: 0.3; stroke-width: 0.8; stroke-linecap: square"/>
     </g>
     <g id="line2d_34">
      <g>
       <use href="#m2624971876" x="54.792" y="630.744" style="stroke: #000000; stroke-width: 0.8"/>
      </g>
     </g>
     <g id="text_13">
      <text style='font-size: 10.500px; font-family: "Liberation Sans", sans-serif' transform="translate(12.87471 683.734225) rotate(-45)" textLength="57.256" lengthAdjust="spacingAndGlyphs">25.02.2026</text>
     </g>
    </g>
    <g id="xtick_9">
     <g id="line2d_35">
      <path d="M 183.58491 630.744 L 183.58491 353.784 " clip-path="url(#p49764ec67e)" style="fill: none; stroke: #b0b0b0; stroke-opacity: 0.3; stroke-width: 0.8; stroke-linecap: square"/>
     </g>
     <g id="line2d_36">
      <g>
       <use href="#m2624971876" x="183.58491" y="630.744" style="stroke: #000000; stroke-width: 0.8"/>
      </g>
     </g>
     <g id="text_14">
      <text style='font-size: 10.500px; font-family: "Liberation Sans", sans-serif' transform="translate(141.66762 683.734225) rotate(-45)" textLength="57.256" lengthAdjust="spacingAndGlyphs">26.02.2026</text>
     </g>
    </g>
    <g id="xtick_10">
     <g id="line2d_37">
      <path d="M 312.37782 630.744 L 312.37782 353.784 " clip-path="url(#p49764ec67e)" style="fill: none; stroke: #b0b0b0; stroke-opacity: 0.3; stroke-width: 0.8; stroke-linecap: square"/>
     </g>
     <g id="line2d_38">
      <g>
       <use href="#m2624971876" x="312.37782" y="630.744" style="stroke: #000000; stroke-width: 0.8"/>
      </g>
     </g>
     <g id="text_15">
      <text style='font-size: 10.500px; font-family: "Liberation Sans", sans-serif' transform="translate(270.481744 683.713012) rotate(-45)" textLength="57.256" lengthAdjust="spacingAndGlyphs">27.02.2026</text>
     </g>
    </g>
    <g id="xtick_11">
     <g id="line2d_39">
      <path d="M 441.170731 630.744 L 441.170731 353.784 " clip-path="url(#p49764ec67e)" style="fill: none; stroke: #b0b0b0; stroke-opacity: 0.3; stroke-width: 0.8; stroke-linecap: square"/>
     </g>
     <g id="line2d_40">
      <g>
       <use href="#m2624971876" x="441.170731" y="630.744" style="stroke: #000000; stroke-width: 0.8"/>
      </g>
     </g>
     <g id="text_16">
      <text style='font-size: 10.500px; font-family: "Liberation Sans", sans-serif' transform="translate(399.232227 683.755438) rotate(-45)" textLength="57.256" lengthAdjust="spacingAndGlyphs">28.02.2026</text>
     </g>
    </g>
    <g id="xtick_12">
     <g id="line2d_41">
      <path d="M 569.963641 630.744 L 569.963641 353.784 " clip-path="url(#p49764ec67e)" style="fill: none; stroke: #b0b0b0; stroke-opacity: 0.3; stroke-width: 0.8; stroke-linecap: square"/>
     </g>
     <g id="line2d_42">
      <g>
       <use href="#m2624971876" x="569.963641" y="630.744" style="stroke: #000000; stroke-width: 0.8"/>
      </g>
     </g>
     <g id="text_17">
      <text style='font-size: 10.500px; font-family: "Liberation Sans", sans-serif' transform="translate(527.982711 683.797865) rotate(-45)" textLength="57.256" lengthAdjust="spacingAndGlyphs">01.03.2026</text>
     </g>
    </g>
    <g id="xtick_13">
     <g id="line2d_43">
      <path d="M 698.756551 630.744 L 698.756551 353.784 " clip-path="url(#p49764ec67e)" style="fill: none; stroke: #b0b0b0; stroke-opacity: 0.3; stroke-width: 0.8; stroke-linecap: square"/>
     </g>
     <g id="line2d_44">
      <g>
       <use href="#m2624971876" x="698.756551" y="630.744" style="stroke: #000000; stroke-width: 0.8"/>
      </g>
     </g>
     <g id="text_18">
      <text style='font-size: 10.500px; font-family: "Liberation Sans", sans-serif' transform="translate(656.796835 683.776651) rotate(-45)" textLength="57.256" lengthAdjust="spacingAndGlyphs">02.03.2026</text>
     </g>
    </g>
    <g id="xtick_14">
     <g id="line2d_45">
      <path d="M 827.549461 630.744 L 827.549461 353.784 " clip-path="url(#p49764ec67e)" style="fill: none; stroke: #b0b0b0; stroke-opacity: 0.3; stroke-width: 0.8; stroke-linecap: square"/>
     </g>
     <g id="line2d_46">
      <g>
       <use href="#m2624971876" x="827.549461" y="630.744" style="stroke: #000000; stroke-width: 0.8"/>
      </g>
     </g>
     <g id="text_19">
      <text style='font-size: 10.500px; font-family: "Liberation Sans", sans-serif' transform="translate(785.547318 683.819078) rotate(-45)" textLength="57.256" lengthAdjust="spacingAndGlyphs">03.03.2026</text>
     </g>
    </g>
    <g id="text_20">
     <text style='font-weight: 700; font-size: 12.600px; font-family: "Liberation Sans", sans-serif; text-anchor: middle' x="502.884" y="698.466429" transform="rotate(-0 502.884 698.466429)" textLength="44.842" lengthAdjust="spacingAndGlyphs">Datum</text>
    </g>
   </g>
   <g id="matplotlib.axis_4">
    <g id="ytick_9">
     <g id="line2d_47">
      <path d="M 54.792 618.154909 L 950.976 618.154909 " clip-path="url(#p49764ec67e)" style="fill: none; stroke: #b0b0b0; stroke-opacity: 0.3; stroke-width: 0.8; stroke-linecap: square"/>
     </g>
     <g id="line2d_48">
      <g>
       <use href="#m23702a139f" x="54.792" y="618.154909" style="stroke: #000000; stroke-width: 0.8"/>
      </g>
     </g>
     <g id="text_21">
      <text style='font-size: 10.500px; font-family: "Liberation Sans", sans-serif; text-anchor: end; fill: #0000ff' x="47.792" y="622.114909" transform="rotate(-0 47.792 622.114909)" textLength="22.266" lengthAdjust="spacingAndGlyphs">0.00</text>
     </g>
    </g>
    <g id="ytick_10">
     <g id="line2d_49">
      <path d="M 54.792 576.191273 L 950.976 576.191273 " clip-path="url(#p49764ec67e)" style="fill: none; stroke: #b0b0b0; stroke-opacity: 0.3; stroke-width: 0.8; stroke-linecap: square"/>
     </g>
     <g id="line2d_50">
      <g>
       <use href="#m23702a139f" x="54.792" y="576.191273" style="stroke: #000000; stroke-width: 0.8"/>
      </g>
     </g>
     <g id="text_22">
      <text style='font-size: 10.500px; font-family: "Liberation Sans", sans-serif; text-anchor: end; fill: #0000ff' x="47.792" y="580.151273" transform="rotate(-0 47.792 580.151273)" textLength="22.266" lengthAdjust="spacingAndGlyphs">0.05</text>
     </g>
    </g>
    <g id="ytick_11">
     <g id="line2d_51">
      <path d="M 54.792 534.227636 L 950.976 534.227636 " clip-path="url(#p49764ec67e)" style="fill: none; stroke: #b0b0b0; stroke-opacity: 0.3; stroke-width: 0.8; stroke-linecap: square"/>
     </g>
     <g id="line2d_52">
      <g>
       <use href="#m23702a139f" x="54.792" y="534.227636" style="stroke: #000000; stroke-width: 0.8"/>
      </g>
     </g>
     <g id="text_23">
      <text style='font-size: 10.500px; font-family: "Liberation Sans", sans-serif; text-anchor: end; fill: #0000ff' x="47.792" y="538.187636" transform="rotate(-0 47.792 538.187636)" textLength="22.266" lengthAdjust="spacingAndGlyphs">0.10</text>
     </g>
    </g>
    <g id="ytick_12">
     <g id="line2d_53">
      <path d="M 54.792 492.264 L 950.976 492.264 " clip-path="url(#p49764ec67e)" style="fill: none; stroke: #b0b0b0; stroke-opacity: 0.3; stroke-width: 0.8; stroke-linecap: square"/>
     </g>
     <g id="line2d_54">
      <g>
       <use href="#m23702a139f" x="54.792" y="492.264" style="stroke: #000000; stroke-width: 0.8"/>
      </g>
     </g>
     <g id="text_24">
      <text style='font-size: 10.500px; font-family: "Liberation Sans", sans-serif; text-anchor: end; fill: #0000ff' x="47.792" y="496.224" transform="rotate(-0 47.792 496.224)" textLength="22.266" lengthAdjust="spacingAndGlyphs">0.15</text>
     </g>
    </g>
    <g id="ytick_13">
     <g id="line2d_55">
      <path d="M 54.792 450.300364 L 950.976 450.300364 " clip-path="url(#p49764ec67e)" style="fill: none; stroke: #b0b0b0; stroke-opacity: 0.3; stroke-width: 0.8; stroke-linecap: square"/>
     </g>
     <g id="line2d_56">
      <g>
       <use href="#m23702a139f" x="54.792" y="450.300364" style="stroke: #000000; stroke-width: 0.8"/>
      </g>
     </g>
     <g id="text_25">
      <text style='font-size: 10.500px; font-family: "Liberation Sans", sans-serif; text-anchor: end; fill: #0000ff' x="47.792" y="454.260364" transform="rotate(-0 47.792 454.260364)" textLength="22.266" lengthAdjust="spacingAndGlyphs">0.20</text>
     </g>
    </g>
    <g id="ytick_14">
     <g id="line2d_57">
      <path d="M 54.792 408.336727 L 950.976 408.336727 " clip-path="url(#p49764ec67e)" style="fill: none; stroke: #b0b0b0; stroke-opacity: 0.3; stroke-width: 0.8; stroke-linecap: square"/>
     </g>
     <g id="line2d_58">
      <g>
       <use href="#m23702a139f" x="54.792" y="408.336727" style="stroke: #000000; stroke-width: 0.8"/>
      </g>
     </g>
     <g id="text_26">
      <text style='font-size: 10.500px; font-family: "Liberation Sans", sans-serif; text-anchor: end; fill: #0000ff' x="47.792" y="412.296727" transform="rotate(-0 47.792 412.296727)" textLength="22.266" lengthAdjust="spacingAndGlyphs">0.25</text>
     </g>
    </g>
    <g id="ytick_15">
     <g id="line2d_59">
      <path d="M 54.792 366.373091 L 950.976 366.373091 " clip-path="url(#p49764ec67e)" style="fill: none; stroke: #b0b0b0; stroke-opacity: 0.3; stroke-width: 0.8; stroke-linecap: square"/>
     </g>
     <g id="line2d_60">
      <g>
       <use href="#m23702a139f" x="54.792" y="366.373091" style="stroke: #000000; stroke-width: 0.8"/>
      </g>
     </g>
     <g id="text_27">
      <text style='font-size: 10.500px; font-family: "Liberation Sans", sans-serif; text-anchor: end; fill: #0000ff' x="47.792" y="370.333091" transform="rotate(-0 47.792 370.333091)" textLength="22.266" lengthAdjust="spacingAndGlyphs">0.30</text>
     </g>
    </g>
    <g id="text_28">
     <text style='font-weight: 700; font-size: 12.600px; font-family: "Liberation Sans", sans-serif; text-anchor: middle; fill: #0000ff' x="19.102" y="492.264" transform="rotate(-90 19.102 492.264)" textLength="128.696" lengthAdjust="spacingAndGlyphs">Niederschlag (mm)</text>
    </g>
   </g>
   <g id="line2d_61">
    <path d="M 54.792 618.154909 L 510.933557 618.154909 L 516.299928 603.299782 L 527.032671 603.299782 L 532.399042 598.935564 L 543.131784 598.935564 L 548.498156 601.117673 L 575.330012 601.117673 L 580.696383 597.089164 L 607.52824 597.089164 L 612.894611 578.205527 L 639.726467 578.205527 L 645.092838 571.6592 L 671.924695 571.6592 L 677.291066 586.598255 L 704.122922 586.598255 L 709.489293 599.271273 L 736.32115 599.271273 L 741.687521 580.051927 L 768.519377 580.051927 L 773.885749 576.023418 L 784.618491 576.023418 L 795.351234 594.655273 L 800.717605 604.726545 L 806.083976 613.790691 L 897.312287 613.790691 L 902.678659 609.762182 L 950.976 609.762182 L 950.976 609.762182 " clip-path="url(#p49764ec67e)" style="fill: none; stroke: #0000ff; stroke-width: 2; stroke-linecap: square"/>
   </g>
   <g id="patch_18">
    <path d="M 54.792 630.744 L 54.792 353.784 " style="fill: none; stroke: #000000; stroke-width: 0.8; stroke-linejoin: miter; stroke-linecap: square"/>
   </g>
   <g id="patch_19">
    <path d="M 950.976 630.744 L 950.976 353.784 " style="fill: none; stroke: #000000; stroke-width: 0.8; stroke-linejoin: miter; stroke-linecap: square"/>
   </g>
   <g id="patch_20">
    <path d="M 54.792 630.744 L 950.976 630.744 " style="fill: none; stroke: #000000; stroke-width: 0.8; stroke-linejoin: miter; stroke-linecap: square"/>
   </g>
   <g id="patch_21">
    <path d="M 54.792 353.784 L 950.976 353.784 " style="fill: none; stroke: #000000; stroke-width: 0.8; stroke-linejoin: miter; stroke-linecap: square"/>
   </g>
   <g id="text_29">
    <text style='font-weight: 700; font-size: 14.700px; font-family: "Liberation Sans", sans-serif; text-anchor: middle' x="502.884" y="347.784" transform="rotate(-0 502.884 347.784)" textLength="103.299" lengthAdjust="spacingAndGlyphs">Niederschlag</text>
   </g>
   <g id="legend_2">
    <g id="patch_22">
     <path d="M 61.792 407.024 L 256.842 407.024 Q 258.842 407.024 258.842 405.024 L 258.842 360.784 Q 258.842 358.784 256.842 358.784 L 61.792 358.784 Q 59.792 358.784 59.792 360.784 L 59.792 405.024 Q 59.792 407.024 61.792 407.024 z
" style="fill: #ffffff; opacity: 0.8; stroke: #cccccc; stroke-linejoin: miter"/>
    </g>
    <g id="line2d_62">
     <path d="M 63.792 367.204 L 73.792 367.204 L 83.792 367.204 " style="fill: none; stroke: #0000ff; stroke-width: 2; stroke-linecap: square"/>
    </g>
    <g id="text_30">
     <text style='font-size: 10.500px; font-family: "Liberation Sans", sans-serif; text-anchor: start' x="91.792" y="370.704" transform="rotate(-0 91.792 370.704)" textLength="80.396" lengthAdjust="spacingAndGlyphs">Ensemble Mittel</text>
    </g>
    <g id="patch_23">
     <path d="M 63.792 385.784 L 83.792 385.784 L 83.792 378.784 L 63.792 378.784 z
" style="fill: #0000ff; fill-opacity: 0.3; stroke: #0000ff; stroke-opacity: 0.3; stroke-linejoin: miter"/>
    </g>
    <g id="text_31">
     <text style='font-size: 10.500px; font-family: "Liberation Sans", sans-serif; text-anchor: start' x="91.792" y="385.784" transform="rotate(-0 91.792 385.784)" textLength="81.749" lengthAdjust="spacingAndGlyphs">10.-90. Perzentil</text>
    </g>
    <g id="patch_24">
     <path d="M 63.792 400.864 L 83.792 400.864 L 83.792 393.864 L 63.792 393.864 z
" style="fill: #008000; opacity: 0.4"/>
    </g>
    <g id="text_32">
     <text style='font-size: 10.500px; font-family: "Liberation Sans", sans-serif; text-anchor: start' x="91.792" y="400.864" transform="rotate(-0 91.792 400.864)" textLength="163.282" lengthAdjust="spacingAndGlyphs">Niederschlagswahrscheinlichkeit</text>
    </g>
   </g>
  </g>
  <g id="axes_3">
   <g id="patch_25">
    <path d="M 52.216142 630.744 L 57.367858 630.744 L 57.367858 630.744 L 52.216142 630.744 z
" clip-path="url(#p1869de663b)" style="fill: #008000; opacity: 0.4"/>
   </g>
   <g id="patch_26">
    <path d="M 57.582513 630.744 L 62.734229 630.744 L 62.734229 630.744 L 57.582513 630.744 z
" clip-path="url(#p1869de663b)" style="fill: #008000; opacity: 0.4"/>
   </g>
   <g id="patch_27">
    <path d="M 62.948884 630.744 L 68.100601 630.744 L 68.100601 630.744 L 62.948884 630.744 z
" clip-path="url(#p1869de663b)" style="fill: #008000; opacity: 0.4"/>
   </g>
   <g id="patch_28">
    <path d="M 68.315256 630.744 L 73.466972 630.744 L 73.466972 630.744 L 68.315256 630.744 z
" clip-path="url(#p1869de663b)" style="fill: #008000; opacity: 0.4"/>
   </g>
   <g id="patch_29">
    <path d="M 73.681627 630.744 L 78.833343 630.744 L 78.833343 630.744 L 73.681627 630.744 z
" clip-path="url(#p1869de663b)" style="fill: #008000; opacity: 0.4"/>
   </g>
   <g id="patch_30">
    <path d="M 79.047998 630.744 L 84.199714 630.744 L 84.199714 630.744 L 79.047998 630.744 z
" clip-path="url(#p1869de663b)" style="fill: #008000; opacity: 0.4"/>
   </g>
   <g id="patch_31">
    <path d="M 84.414369 630.744 L 89.566086 630.744 L 89.566086 630.744 L 84.414369 630.744 z
" clip-path="url(#p1869de663b)" style="fill: #008000; opacity: 0.4"/>
   </g>
   <g id="patch_32">
    <path d="M 89.780741 630.744 L 94.932457 630.744 L 94.932457 630.744 L 89.780741 630.744 z
" clip-path="url(#p1869de663b)" style="fill: #008000; opacity: 0.4"/>
   </g>
   <g id="patch_33">
    <path d="M 95.147112 630.744 L 100.298828 630.744 L 100.298828 630.744 L 95.147112 630.744 z
" clip-path="url(#p1869de663b)" style="fill: #008000; opacity: 0.4"/>
   </g>
   <g id="patch_34">
    <path d="M 100.513483 630.744 L 105.6652 630.744 L 105.6652 630.744 L 100.513483 630.744 z
" clip-path="url(#p1869de663b)" style="fill: #008000; opacity: 0.4"/>
   </g>
   <g id="patch_35">
    <path d="M 105.879854 630.744 L 111.031571 630.744 L 111.031571 630.744 L 105.879854 630.744 z
" clip-path="url(#p1869de663b)" style="fill: #008000; opacity: 0.4"/>
   </g>
   <g id="patch_36">
    <path d="M 111.246226 630.744 L 116.397942 630.744 L 116.397942 630.744 L 111.246226 630.744 z
" clip-path="url(#p1869de663b)" style="fill: #008000; opacity: 0.4"/>
   </g>
   <g id="patch_37">
    <path d="M 116.612597 630.744 L 121.764313 630.744 L 121.764313 630.744 L 116.612597 630.744 z
" clip-path="url(#p1869de663b)" style="fill: #008000; opacity: 0.4"/>
   </g>
   <g id="patch_38">
    <path d="M 121.978968 630.744 L 127.130685 630.744 L 127.130685 630.744 L 121.978968 630.744 z
" clip-path="url(#p1869de663b)" style="fill: #008000; opacity: 0.4"/>
   </g>
   <g id="patch_39">
    <path d="M 127.345339 630.744 L 132.497056 630.744 L 132.497056 630.744 L 127.345339 630.744 z
" clip-path="url(#p1869de663b)" style="fill: #008000; opacity: 0.4"/>
   </g>
   <g id="patch_40">
    <path d="M 132.711711 630.744 L 137.863427 630.744 L 137.863427 630.744 L 132.711711 630.744 z
" clip-path="url(#p1869de663b)" style="fill: #008000; opacity: 0.4"/>
   </g>
   <g id="patch_41">
    <path d="M 138.078082 630.744 L 143.229798 630.744 L 143.229798 630.744 L 138.078082 630.744 z
" clip-path="url(#p1869de663b)" style="fill: #008000; opacity: 0.4"/>
   </g>
   <g id="patch_42">
    <path d="M 143.444453 630.744 L 148.59617 630.744 L 148.59617 630.744 L 143.444453 630.744 z
" clip-path="url(#p1869de663b)" style="fill: #008000; opacity: 0.4"/>
   </g>
   <g id="patch_43">
    <path d="M 148.810824 630.744 L 153.962541 630.744 L 153.962541 630.744 L 148.810824 630.744 z
" clip-path="url(#p1869de663b)" style="fill: #008000; opacity: 0.4"/>
   </g>
   <g id="patch_44">
    <path d="M 154.177196 630.744 L 159.328912 630.744 L 159.328912 630.744 L 154.177196 630.744 z
" clip-path="url(#p1869de663b)" style="fill: #008000; opacity: 0.4"/>
   </g>
   <g id="patch_45">
    <path d="M 159.543567 630.744 L 164.695283 630.744 L 164.695283 630.744 L 159.543567 630.744 z
" clip-path="url(#p1869de663b)" style="fill: #008000; opacity: 0.4"/>
   </g>
   <g id="patch_46">
    <path d="M 164.909938 630.744 L 170.061655 630.744 L 170.061655 630.744 L 164.909938 630.744 z
" clip-path="url(#p1869de663b)" style="fill: #008000; opacity: 0.4"/>
   </g>
   <g id="patch_47">
    <path d="M 170.276309 630.744 L 175.428026 630.744 L 175.428026 630.744 L 170.276309 630.744 z
" clip-path="url(#p1869de663b)" style="fill: #008000; opacity: 0.4"/>
   </g>
   <g id="patch_48">
    <path d="M 175.642681 630.744 L 180.794397 630.744 L 180.794397 630.744 L 175.642681 630.744 z
" clip-path="url(#p1869de663b)" style="fill: #008000; opacity: 0.4"/>
   </g>
   <g id="patch_49">
    <path d="M 181.009052 630.744 L 186.160768 630.744 L 186.160768 630.744 L 181.009052 630.744 z
" clip-path="url(#p1869de663b)" style="fill: #008000; opacity: 0.4"/>
   </g>
   <g id="patch_50">
    <path d="M 186.375423 630.744 L 191.52714 630.744 L 191.52714 630.744 L 186.375423 630.744 z
" clip-path="url(#p1869de663b)" style="fill: #008000; opacity: 0.4"/>
   </g>
   <g id="patch_51">
    <path d="M 191.741794 630.744 L 196.893511 630.744 L 196.893511 630.744 L 191.741794 630.744 z
" clip-path="url(#p1869de663b)" style="fill: #008000; opacity: 0.4"/>
   </g>
   <g id="patch_52">
    <path d="M 197.108166 630.744 L 202.259882 630.744 L 202.259882 630.744 L 197.108166 630.744 z
" clip-path="url(#p1869de663b)" style="fill: #008000; opacity: 0.4"/>
   </g>
   <g id="patch_53">
    <path d="M 202.474537 630.744 L 207.626253 630.744 L 207.626253 630.744 L 202.474537 630.744 z
" clip-path="url(#p1869de663b)" style="fill: #008000; opacity: 0.4"/>
   </g>
   <g id="patch_54">
    <path d="M 207.840908 630.744 L 212.992625 630.744 L 212.992625 630.744 L 207.840908 630.744 z
" clip-path="url(#p1869de663b)" style="fill: #008000; opacity: 0.4"/>
   </g>
   <g id="patch_55">
    <path d="M 213.20728 630.744 L 218.358996 630.744 L 218.358996 630.744 L 213.20728 630.744 z
" clip-path="url(#p1869de663b)" style="fill: #008000; opacity: 0.4"/>
   </g>
   <g id="patch_56">
    <path d="M 218.573651 630.744 L 223.725367 630.744 L 223.725367 630.744 L 218.573651 630.744 z
" clip-path="url(#p1869de663b)" style="fill: #008000; opacity: 0.4"/>
   </g>
   <g id="patch_57">
    <path d="M 223.940022 630.744 L 229.091738 630.744 L 229.091738 630.744 L 223.940022 630.744 z
" clip-path="url(#p1869de663b)" style="fill: #008000; opacity: 0.4"/>
   </g>
   <g id="patch_58">
    <path d="M 229.306393 630.744 L 234.45811 630.744 L 234.45811 630.744 L 229.306393 630.744 z
" clip-path="url(#p1869de663b)" style="fill: #008000; opacity: 0.4"/>
   </g>
   <g id="patch_59">
    <path d="M 234.672765 630.744 L 239.824481 630.744 L 239.824481 630.744 L 234.672765 630.744 z
" clip-path="url(#p1869de663b)" style="fill: #008000; opacity: 0.4"/>
   </g>
   <g id="patch_60">
    <path d="M 240.039136 630.744 L 245.190852 630.744 L 245.190852 630.744 L 240.039136 630.744 z
" clip-path="url(#p1869de663b)" style="fill: #008000; opacity: 0.4"/>
   </g>
   <g id="patch_61">
    <path d="M 245.405507 630.744 L 250.557223 630.744 L 250.557223 630.744 L 245.405507 630.744 z
" clip-path="url(#p1869de663b)" style="fill: #008000; opacity: 0.4"/>
   </g>
   <g id="patch_62">
    <path d="M 250.771878 630.744 L 255.923595 630.744 L 255.923595 630.744 L 250.771878 630.744 z
" clip-path="url(#p1869de663b)" style="fill: #008000; opacity: 0.4"/>
   </g>
   <g id="patch_63">
    <path d="M 256.13825 630.744 L 261.289966 630.744 L 261.289966 630.744 L 256.13825 630.744 z
" clip-path="url(#p1869de663b)" style="fill: #008000; opacity: 0.4"/>
   </g>
   <g id="patch_64">
    <path d="M 261.504621 630.744 L 266.656337 630.744 L 266.656337 630.744 L 261.504621 630.744 z
" clip-path="url(#p1869de663b)" style="fill: #008000; opacity: 0.4"/>
   </g>
   <g id="patch_65">
    <path d="M 266.870992 630.744 L 272.022709 630.744 L 272.022709 630.744 L 266.870992 630.744 z
" clip-path="url(#p1869de663b)" style="fill: #008000; opacity: 0.4"/>
   </g>
   <g id="patch_66">
    <path d="M 272.237363 630.744 L 277.38908 630.744 L 277.38908 630.744 L 272.237363 630.744 z
" clip-path="url(#p1869de663b)" style="fill: #008000; opacity: 0.4"/>
   </g>
   <g id="patch_67">
    <path d="M 277.603735 630.744 L 282.755451 630.744 L 282.755451 630.744 L 277.603735 630.744 z
" clip-path="url(#p1869de663b)" style="fill: #008000; opacity: 0.4"/>
   </g>
   <g id="patch_68">
    <path d="M 282.970106 630.744 L 288.121822 630.744 L 288.121822 630.744 L 282.970106 630.744 z
" clip-path="url(#p1869de663b)" style="fill: #008000; opacity: 0.4"/>
   </g>
   <g id="patch_69">
    <path d="M 288.336477 630.744 L 293.488194 630.744 L 293.488194 630.744 L 288.336477 630.744 z
" clip-path="url(#p1869de663b)" style="fill: #008000; opacity: 0.4"/>
   </g>
   <g id="patch_70">
    <path d="M 293.702848 630.744 L 298.854565 630.744 L 298.854565 630.744 L 293.702848 630.744 z
" clip-path="url(#p1869de663b)" style="fill: #008000; opacity: 0.4"/>
   </g>
   <g id="patch_71">
    <path d="M 299.06922 630.744 L 304.220936 630.744 L 304.220936 630.744 L 299.06922 630.744 z
" clip-path="url(#p1869de663b)" style="fill: #008000; opacity: 0.4"/>
   </g>
   <g id="patch_72">
    <path d="M 304.435591 630.744 L 309.587307 630.744 L 309.587307 630.744 L 304.435591 630.744 z
" clip-path="url(#p1869de663b)" style="fill: #008000; opacity: 0.4"/>
   </g>
   <g id="patch_73">
    <path d="M 309.801962 630.744 L 314.953679 630.744 L 314.953679 630.744 L 309.801962 630.744 z
" clip-path="url(#p1869de663b)" style="fill: #008000; opacity: 0.4"/>
   </g>
   <g id="patch_74">
    <path d="M 315.168333 630.744 L 320.32005 630.744 L 320.32005 630.744 L 315.168333 630.744 z
" clip-path="url(#p1869de663b)" style="fill: #008000; opacity: 0.4"/>
   </g>
   <g id="patch_75">
    <path d="M 320.534705 630.744 L 325.686421 630.744 L 325.686421 630.744 L 320.534705 630.744 z
" clip-path="url(#p1869de663b)" style="fill: #008000; opacity: 0.4"/>
   </g>
   <g id="patch_76">
    <path d="M 325.901076 630.744 L 331.052792 630.744 L 331.052792 630.744 L 325.901076 630.744 z
" clip-path="url(#p1869de663b)" style="fill: #008000; opacity: 0.4"/>
   </g>
   <g id="patch_77">
    <path d="M 331.267447 630.744 L 336.419164 630.744 L 336.419164 630.744 L 331.267447 630.744 z
" clip-path="url(#p1869de663b)" style="fill: #008000; opacity: 0.4"/>
   </g>
   <g id="patch_78">
    <path d="M 336.633818 630.744 L 341.785535 630.744 L 341.785535 630.744 L 336.633818 630.744 z
" clip-path="url(#p1869de663b)" style="fill: #008000; opacity: 0.4"/>
   </g>
   <g id="patch_79">
    <path d="M 342.00019 630.744 L 347.151906 630.744 L 347.151906 630.744 L 342.00019 630.744 z
" clip-path="url(#p1869de663b)" style="fill: #008000; opacity: 0.4"/>
   </g>
   <g id="patch_80">
    <path d="M 347.366561 630.744 L 352.518277 630.744 L 352.518277 630.744 L 347.366561 630.744 z
" clip-path="url(#p1869de663b)" style="fill: #008000; opacity: 0.4"/>
   </g>
   <g id="patch_81">
    <path d="M 352.732932 630.744 L 357.884649 630.744 L 357.884649 630.744 L 352.732932 630.744 z
" clip-path="url(#p1869de663b)" style="fill: #008000; opacity: 0.4"/>
   </g>
   <g id="patch_82">
    <path d="M 358.099303 630.744 L 363.25102 630.744 L 363.25102 630.744 L 358.099303 630.744 z
" clip-path="url(#p1869de663b)" style="fill: #008000; opacity: 0.4"/>
   </g>
   <g id="patch_83">
    <path d="M 363.465675 630.744 L 368.617391 630.744 L 368.617391 630.744 L 363.465675 630.744 z
" clip-path="url(#p1869de663b)" style="fill: #008000; opacity: 0.4"/>
   </g>
   <g id="patch_84">
    <path d="M 368.832046 630.744 L 373.983762 630.744 L 373.983762 630.744 L 368.832046 630.744 z
" clip-path="url(#p1869de663b)" style="fill: #008000; opacity: 0.4"/>
   </g>
   <g id="patch_85">
    <path d="M 374.198417 630.744 L 379.350134 630.744 L 379.350134 630.744 L 374.198417 630.744 z
" clip-path="url(#p1869de663b)" style="fill: #008000; opacity: 0.4"/>
   </g>
   <g id="patch_86">
    <path d="M 379.564789 630.744 L 384.716505 630.744 L 384.716505 630.744 L 379.564789 630.744 z
" clip-path="url(#p1869de663b)" style="fill: #008000; opacity: 0.4"/>
   </g>
   <g id="patch_87">
    <path d="M 384.93116 630.744 L 390.082876 630.744 L 390.082876 630.744 L 384.93116 630.744 z
" clip-path="url(#p1869de663b)" style="fill: #008000; opacity: 0.4"/>
   </g>
   <g id="patch_88">
    <path d="M 390.297531 630.744 L 395.449247 630.744 L 395.449247 630.744 L 390.297531 630.744 z
" clip-path="url(#p1869de663b)" style="fill: #008000; opacity: 0.4"/>
   </g>
   <g id="patch_89">
    <path d="M 395.663902 630.744 L 400.815619 630.744 L 400.815619 630.744 L 395.663902 630.744 z
" clip-path="url(#p1869de663b)" style="fill: #008000; opacity: 0.4"/>
   </g>
   <g id="patch_90">
    <path d="M 401.030274 630.744 L 406.18199 630.744 L 406.18199 630.744 L 401.030274 630.744 z
" clip-path="url(#p1869de663b)" style="fill: #008000; opacity: 0.4"/>
   </g>
   <g id="patch_91">
    <path d="M 406.396645 630.744 L 411.548361 630.744 L 411.548361 630.744 L 406.396645 630.744 z
" clip-path="url(#p1869de663b)" style="fill: #008000; opacity: 0.4"/>
   </g>
   <g id="patch_92">
    <path d="M 411.763016 630.744 L 416.914732 630.744 L 416.914732 630.744 L 411.763016 630.744 z
" clip-path="url(#p1869de663b)" style="fill: #008000; opacity: 0.4"/>
   </g>
   <g id="patch_93">
    <path d="M 417.129387 630.744 L 422.281104 630.744 L 422.281104 630.744 L 417.129387 630.744 z
" clip-path="url(#p1869de663b)" style="fill: #008000; opacity: 0.4"/>
   </g>
   <g id="patch_94">
    <path d="M 422.495759 630.744 L 427.647475 630.744 L 427.647475 630.744 L 422.495759 630.744 z
" clip-path="url(#p1869de663b)" style="fill: #008000; opacity: 0.4"/>
   </g>
   <g id="patch_95">
    <path d="M 427.86213 630.744 L 433.013846 630.744 L 433.013846 630.744 L 427.86213 630.744 z
" clip-path="url(#p1869de663b)" style="fill: #008000; opacity: 0.4"/>
   </g>
   <g id="patch_96">
    <path d="M 433.228501 630.744 L 438.380217 630.744 L 438.380217 630.744 L 433.228501 630.744 z
" clip-path="url(#p1869de663b)" style="fill: #008000; opacity: 0.4"/>
   </g>
   <g id="patch_97">
    <path d="M 438.594872 630.744 L 443.746589 630.744 L 443.746589 630.744 L 438.594872 630.744 z
" clip-path="url(#p1869de663b)" style="fill: #008000; opacity: 0.4"/>
   </g>
   <g id="patch_98">
    <path d="M 443.961244 630.744 L 449.11296 630.744 L 449.11296 630.744 L 443.961244 630.744 z
" clip-path="url(#p1869de663b)" style="fill: #008000; opacity: 0.4"/>
   </g>
   <g id="patch_99">
    <path d="M 449.327615 630.744 L 454.479331 630.744 L 454.479331 630.744 L 449.327615 630.744 z
" clip-path="url(#p1869de663b)" style="fill: #008000; opacity: 0.4"/>
   </g>
   <g id="patch_100">
    <path d="M 454.693986 630.744 L 459.845703 630.744 L 459.845703 630.744 L 454.693986 630.744 z
" clip-path="url(#p1869de663b)" style="fill: #008000; opacity: 0.4"/>
   </g>
   <g id="patch_101">
    <path d="M 460.060357 630.744 L 465.212074 630.744 L 465.212074 630.744 L 460.060357 630.744 z
" clip-path="url(#p1869de663b)" style="fill: #008000; opacity: 0.4"/>
   </g>
   <g id="patch_102">
    <path d="M 465.426729 630.744 L 470.578445 630.744 L 470.578445 630.744 L 465.426729 630.744 z
" clip-path="url(#p1869de663b)" style="fill: #008000; opacity: 0.4"/>
   </g>
   <g id="patch_103">
    <path d="M 470.7931 630.744 L 475.944816 630.744 L 475.944816 630.744 L 470.7931 630.744 z
" clip-path="url(#p1869de663b)" style="fill: #008000; opacity: 0.4"/>
   </g>
   <g id="patch_104">
    <path d="M 476.159471 630.744 L 481.311188 630.744 L 481.311188 630.744 L 476.159471 630.744 z
" clip-path="url(#p1869de663b)" style="fill: #008000; opacity: 0.4"/>
   </g>
   <g id="patch_105">
    <path d="M 481.525842 630.744 L 486.677559 630.744 L 486.677559 630.744 L 481.525842 630.744 z
" clip-path="url(#p1869de663b)" style="fill: #008000; opacity: 0.4"/>
   </g>
   <g id="patch_106">
    <path d="M 486.892214 630.744 L 492.04393 630.744 L 492.04393 630.744 L 486.892214 630.744 z
" clip-path="url(#p1869de663b)" style="fill: #008000; opacity: 0.4"/>
   </g>
   <g id="patch_107">
    <path d="M 492.258585 630.744 L 497.410301 630.744 L 497.410301 630.744 L 492.258585 630.744 z
" clip-path="url(#p1869de663b)" style="fill: #008000; opacity: 0.4"/>
   </g>
   <g id="patch_108">
    <path d="M 497.624956 630.744 L 502.776673 630.744 L 502.776673 630.744 L 497.624956 630.744 z
" clip-path="url(#p1869de663b)" style="fill: #008000; opacity: 0.4"/>
   </g>
   <g id="patch_109">
    <path d="M 502.991327 630.744 L 508.143044 630.744 L 508.143044 630.744 L 502.991327 630.744 z
" clip-path="url(#p1869de663b)" style="fill: #008000; opacity: 0.4"/>
   </g>
   <g id="patch_110">
    <path d="M 508.357699 630.744 L 513.509415 630.744 L 513.509415 630.744 L 508.357699 630.744 z
" clip-path="url(#p1869de663b)" style="fill: #008000; opacity: 0.4"/>
   </g>
   <g id="patch_111">
    <path d="M 513.72407 630.744 L 518.875786 630.744 L 518.875786 609.972 L 513.72407 609.972 z
" clip-path="url(#p1869de663b)" style="fill: #008000; opacity: 0.4"/>
   </g>
   <g id="patch_112">
    <path d="M 519.090441 630.744 L 524.242158 630.744 L 524.242158 609.972 L 519.090441 609.972 z
" clip-path="url(#p1869de663b)" style="fill: #008000; opacity: 0.4"/>
   </g>
   <g id="patch_113">
    <path d="M 524.456812 630.744 L 529.608529 630.744 L 529.608529 609.972 L 524.456812 609.972 z
" clip-path="url(#p1869de663b)" style="fill: #008000; opacity: 0.4"/>
   </g>
   <g id="patch_114">
    <path d="M 529.823184 630.744 L 534.9749 630.744 L 534.9749 603.048 L 529.823184 603.048 z
" clip-path="url(#p1869de663b)" style="fill: #008000; opacity: 0.4"/>
   </g>
   <g id="patch_115">
    <path d="M 535.189555 630.744 L 540.341271 630.744 L 540.341271 603.048 L 535.189555 603.048 z
" clip-path="url(#p1869de663b)" style="fill: #008000; opacity: 0.4"/>
   </g>
   <g id="patch_116">
    <path d="M 540.555926 630.744 L 545.707643 630.744 L 545.707643 603.048 L 540.555926 603.048 z
" clip-path="url(#p1869de663b)" style="fill: #008000; opacity: 0.4"/>
   </g>
   <g id="patch_117">
    <path d="M 545.922297 630.744 L 551.074014 630.744 L 551.074014 582.276 L 545.922297 582.276 z
" clip-path="url(#p1869de663b)" style="fill: #008000; opacity: 0.4"/>
   </g>
   <g id="patch_118">
    <path d="M 551.288669 630.744 L 556.440385 630.744 L 556.440385 582.276 L 551.288669 582.276 z
" clip-path="url(#p1869de663b)" style="fill: #008000; opacity: 0.4"/>
   </g>
   <g id="patch_119">
    <path d="M 556.65504 630.744 L 561.806756 630.744 L 561.806756 582.276 L 556.65504 582.276 z
" clip-path="url(#p1869de663b)" style="fill: #008000; opacity: 0.4"/>
   </g>
   <g id="patch_120">
    <path d="M 562.021411 630.744 L 567.173128 630.744 L 567.173128 582.276 L 562.021411 582.276 z
" clip-path="url(#p1869de663b)" style="fill: #008000; opacity: 0.4"/>
   </g>
   <g id="patch_121">
    <path d="M 567.387783 630.744 L 572.539499 630.744 L 572.539499 582.276 L 567.387783 582.276 z
" clip-path="url(#p1869de663b)" style="fill: #008000; opacity: 0.4"/>
   </g>
   <g id="patch_122">
    <path d="M 572.754154 630.744 L 577.90587 630.744 L 577.90587 582.276 L 572.754154 582.276 z
" clip-path="url(#p1869de663b)" style="fill: #008000; opacity: 0.4"/>
   </g>
   <g id="patch_123">
    <path d="M 578.120525 630.744 L 583.272241 630.744 L 583.272241 589.2 L 578.120525 589.2 z
" clip-path="url(#p1869de663b)" style="fill: #008000; opacity: 0.4"/>
   </g>
   <g id="patch_124">
    <path d="M 583.486896 630.744 L 588.638613 630.744 L 588.638613 589.2 L 583.486896 589.2 z
" clip-path="url(#p1869de663b)" style="fill: #008000; opacity: 0.4"/>
   </g>
   <g id="patch_125">
    <path d="M 588.853268 630.744 L 594.004984 630.744 L 594.004984 589.2 L 588.853268 589.2 z
" clip-path="url(#p1869de663b)" style="fill: #008000; opacity: 0.4"/>
   </g>
   <g id="patch_126">
    <path d="M 594.219639 630.744 L 599.371355 630.744 L 599.371355 589.2 L 594.219639 589.2 z
" clip-path="url(#p1869de663b)" style="fill: #008000; opacity: 0.4"/>
   </g>
   <g id="patch_127">
    <path d="M 599.58601 630.744 L 604.737726 630.744 L 604.737726 589.2 L 599.58601 589.2 z
" clip-path="url(#p1869de663b)" style="fill: #008000; opacity: 0.4"/>
   </g>
   <g id="patch_128">
    <path d="M 604.952381 630.744 L 610.104098 630.744 L 610.104098 589.2 L 604.952381 589.2 z
" clip-path="url(#p1869de663b)" style="fill: #008000; opacity: 0.4"/>
   </g>
   <g id="patch_129">
    <path d="M 610.318753 630.744 L 615.470469 630.744 L 615.470469 589.2 L 610.318753 589.2 z
" clip-path="url(#p1869de663b)" style="fill: #008000; opacity: 0.4"/>
   </g>
   <g id="patch_130">
    <path d="M 615.685124 630.744 L 620.83684 630.744 L 620.83684 589.2 L 615.685124 589.2 z
" clip-path="url(#p1869de663b)" style="fill: #008000; opacity: 0.4"/>
   </g>
   <g id="patch_131">
    <path d="M 621.051495 630.744 L 626.203211 630.744 L 626.203211 589.2 L 621.051495 589.2 z
" clip-path="url(#p1869de663b)" style="fill: #008000; opacity: 0.4"/>
   </g>
   <g id="patch_132">
    <path d="M 626.417866 630.744 L 631.569583 630.744 L 631.569583 589.2 L 626.417866 589.2 z
" clip-path="url(#p1869de663b)" style="fill: #008000; opacity: 0.4"/>
   </g>
   <g id="patch_133">
    <path d="M 631.784238 630.744 L 636.935954 630.744 L 636.935954 589.2 L 631.784238 589.2 z
" clip-path="url(#p1869de663b)" style="fill: #008000; opacity: 0.4"/>
   </g>
   <g id="patch_134">
    <path d="M 637.150609 630.744 L 642.302325 630.744 L 642.302325 589.2 L 637.150609 589.2 z
" clip-path="url(#p1869de663b)" style="fill: #008000; opacity: 0.4"/>
   </g>
   <g id="patch_135">
    <path d="M 642.51698 630.744 L 647.668697 630.744 L 647.668697 561.504 L 642.51698 561.504 z
" clip-path="url(#p1869de663b)" style="fill: #008000; opacity: 0.4"/>
   </g>
   <g id="patch_136">
    <path d="M 647.883351 630.744 L 653.035068 630.744 L 653.035068 561.504 L 647.883351 561.504 z
" clip-path="url(#p1869de663b)" style="fill: #008000; opacity: 0.4"/>
   </g>
   <g id="patch_137">
    <path d="M 653.249723 630.744 L 658.401439 630.744 L 658.401439 561.504 L 653.249723 561.504 z
" clip-path="url(#p1869de663b)" style="fill: #008000; opacity: 0.4"/>
   </g>
   <g id="patch_138">
    <path d="M 658.616094 630.744 L 663.76781 630.744 L 663.76781 561.504 L 658.616094 561.504 z
" clip-path="url(#p1869de663b)" style="fill: #008000; opacity: 0.4"/>
   </g>
   <g id="patch_139">
    <path d="M 663.982465 630.744 L 669.134182 630.744 L 669.134182 561.504 L 663.982465 561.504 z
" clip-path="url(#p1869de663b)" style="fill: #008000; opacity: 0.4"/>
   </g>
   <g id="patch_140">
    <path d="M 669.348836 630.744 L 674.500553 630.744 L 674.500553 561.504 L 669.348836 561.504 z
" clip-path="url(#p1869de663b)" style="fill: #008000; opacity: 0.4"/>
   </g>
   <g id="patch_141">
    <path d="M 674.715208 630.744 L 679.866924 630.744 L 679.866924 582.276 L 674.715208 582.276 z
" clip-path="url(#p1869de663b)" style="fill: #008000; opacity: 0.4"/>
   </g>
   <g id="patch_142">
    <path d="M 680.081579 630.744 L 685.233295 630.744 L 685.233295 582.276 L 680.081579 582.276 z
" clip-path="url(#p1869de663b)" style="fill: #008000; opacity: 0.4"/>
   </g>
   <g id="patch_143">
    <path d="M 685.44795 630.744 L 690.599667 630.744 L 690.599667 582.276 L 685.44795 582.276 z
" clip-path="url(#p1869de663b)" style="fill: #008000; opacity: 0.4"/>
   </g>
   <g id="patch_144">
    <path d="M 690.814321 630.744 L 695.966038 630.744 L 695.966038 582.276 L 690.814321 582.276 z
" clip-path="url(#p1869de663b)" style="fill: #008000; opacity: 0.4"/>
   </g>
   <g id="patch_145">
    <path d="M 696.180693 630.744 L 701.332409 630.744 L 701.332409 582.276 L 696.180693 582.276 z
" clip-path="url(#p1869de663b)" style="fill: #008000; opacity: 0.4"/>
   </g>
   <g id="patch_146">
    <path d="M 701.547064 630.744 L 706.69878 630.744 L 706.69878 582.276 L 701.547064 582.276 z
" clip-path="url(#p1869de663b)" style="fill: #008000; opacity: 0.4"/>
   </g>
   <g id="patch_147">
    <path d="M 706.913435 630.744 L 712.065152 630.744 L 712.065152 596.124 L 706.913435 596.124 z
" clip-path="url(#p1869de663b)" style="fill: #008000; opacity: 0.4"/>
   </g>
   <g id="patch_148">
    <path d="M 712.279806 630.744 L 717.431523 630.744 L 717.431523 596.124 L 712.279806 596.124 z
" clip-path="url(#p1869de663b)" style="fill: #008000; opacity: 0.4"/>
   </g>
   <g id="patch_149">
    <path d="M 717.646178 630.744 L 722.797894 630.744 L 722.797894 596.124 L 717.646178 596.124 z
" clip-path="url(#p1869de663b)" style="fill: #008000; opacity: 0.4"/>
   </g>
   <g id="patch_150">
    <path d="M 723.012549 630.744 L 728.164265 630.744 L 728.164265 596.124 L 723.012549 596.124 z
" clip-path="url(#p1869de663b)" style="fill: #008000; opacity: 0.4"/>
   </g>
   <g id="patch_151">
    <path d="M 728.37892 630.744 L 733.530637 630.744 L 733.530637 596.124 L 728.37892 596.124 z
" clip-path="url(#p1869de663b)" style="fill: #008000; opacity: 0.4"/>
   </g>
   <g id="patch_152">
    <path d="M 733.745291 630.744 L 738.897008 630.744 L 738.897008 596.124 L 733.745291 596.124 z
" clip-path="url(#p1869de663b)" style="fill: #008000; opacity: 0.4"/>
   </g>
   <g id="patch_153">
    <path d="M 739.111663 630.744 L 744.263379 630.744 L 744.263379 603.048 L 739.111663 603.048 z
" clip-path="url(#p1869de663b)" style="fill: #008000; opacity: 0.4"/>
   </g>
   <g id="patch_154">
    <path d="M 744.478034 630.744 L 749.62975 630.744 L 749.62975 603.048 L 744.478034 603.048 z
" clip-path="url(#p1869de663b)" style="fill: #008000; opacity: 0.4"/>
   </g>
   <g id="patch_155">
    <path d="M 749.844405 630.744 L 754.996122 630.744 L 754.996122 603.048 L 749.844405 603.048 z
" clip-path="url(#p1869de663b)" style="fill: #008000; opacity: 0.4"/>
   </g>
   <g id="patch_156">
    <path d="M 755.210777 630.744 L 760.362493 630.744 L 760.362493 603.048 L 755.210777 603.048 z
" clip-path="url(#p1869de663b)" style="fill: #008000; opacity: 0.4"/>
   </g>
   <g id="patch_157">
    <path d="M 760.577148 630.744 L 765.728864 630.744 L 765.728864 603.048 L 760.577148 603.048 z
" clip-path="url(#p1869de663b)" style="fill: #008000; opacity: 0.4"/>
   </g>
   <g id="patch_158">
    <path d="M 765.943519 630.744 L 771.095235 630.744 L 771.095235 603.048 L 765.943519 603.048 z
" clip-path="url(#p1869de663b)" style="fill: #008000; opacity: 0.4"/>
   </g>
   <g id="patch_159">
    <path d="M 771.30989 630.744 L 776.461607 630.744 L 776.461607 616.896 L 771.30989 616.896 z
" clip-path="url(#p1869de663b)" style="fill: #008000; opacity: 0.4"/>
   </g>
   <g id="patch_160">
    <path d="M 776.676262 630.744 L 781.827978 630.744 L 781.827978 616.896 L 776.676262 616.896 z
" clip-path="url(#p1869de663b)" style="fill: #008000; opacity: 0.4"/>
   </g>
   <g id="patch_161">
    <path d="M 782.042633 630.744 L 787.194349 630.744 L 787.194349 616.896 L 782.042633 616.896 z
" clip-path="url(#p1869de663b)" style="fill: #008000; opacity: 0.4"/>
   </g>
   <g id="patch_162">
    <path d="M 787.409004 630.744 L 792.56072 630.744 L 792.56072 616.896 L 787.409004 616.896 z
" clip-path="url(#p1869de663b)" style="fill: #008000; opacity: 0.4"/>
   </g>
   <g id="patch_163">
    <path d="M 792.775375 630.744 L 797.927092 630.744 L 797.927092 616.896 L 792.775375 616.896 z
" clip-path="url(#p1869de663b)" style="fill: #008000; opacity: 0.4"/>
   </g>
   <g id="patch_164">
    <path d="M 798.141747 630.744 L 803.293463 630.744 L 803.293463 616.896 L 798.141747 616.896 z
" clip-path="url(#p1869de663b)" style="fill: #008000; opacity: 0.4"/>
   </g>
   <g id="patch_165">
    <path d="M 803.508118 630.744 L 808.659834 630.744 L 808.659834 623.82 L 803.508118 623.82 z
" clip-path="url(#p1869de663b)" style="fill: #008000; opacity: 0.4"/>
   </g>
   <g id="patch_166">
    <path d="M 808.874489 630.744 L 814.026206 630.744 L 814.026206 623.82 L 808.874489 623.82 z
" clip-path="url(#p1869de663b)" style="fill: #008000; opacity: 0.4"/>
   </g>
   <g id="patch_167">
    <path d="M 814.24086 630.744 L 819.392577 630.744 L 819.392577 623.82 L 814.24086 623.82 z
" clip-path="url(#p1869de663b)" style="fill: #008000; opacity: 0.4"/>
   </g>
   <g id="patch_168">
    <path d="M 819.607232 630.744 L 824.758948 630.744 L 824.758948 623.82 L 819.607232 623.82 z
" clip-path="url(#p1869de663b)" style="fill: #008000; opacity: 0.4"/>
   </g>
   <g id="patch_169">
    <path d="M 824.973603 630.744 L 830.125319 630.744 L 830.125319 623.82 L 824.973603 623.82 z
" clip-path="url(#p1869de663b)" style="fill: #008000; opacity: 0.4"/>
   </g>
   <g id="patch_170">
    <path d="M 830.339974 630.744 L 835.491691 630.744 L 835.491691 623.82 L 830.339974 623.82 z
" clip-path="url(#p1869de663b)" style="fill: #008000; opacity: 0.4"/>
   </g>
   <g id="patch_171">
    <path d="M 835.706345 630.744 L 840.858062 630.744 L 840.858062 623.82 L 835.706345 623.82 z
" clip-path="url(#p1869de663b)" style="fill: #008000; opacity: 0.4"/>
   </g>
   <g id="patch_172">
    <path d="M 841.072717 630.744 L 846.224433 630.744 L 846.224433 623.82 L 841.072717 623.82 z
" clip-path="url(#p1869de663b)" style="fill: #008000; opacity: 0.4"/>
   </g>
   <g id="patch_173">
    <path d="M 846.439088 630.744 L 851.590804 630.744 L 851.590804 623.82 L 846.439088 623.82 z
" clip-path="url(#p1869de663b)" style="fill: #008000; opacity: 0.4"/>
   </g>
   <g id="patch_174">
    <path d="M 851.805459 630.744 L 856.957176 630.744 L 856.957176 623.82 L 851.805459 623.82 z
" clip-path="url(#p1869de663b)" style="fill: #008000; opacity: 0.4"/>
   </g>
   <g id="patch_175">
    <path d="M 857.17183 630.744 L 862.323547 630.744 L 862.323547 623.82 L 857.17183 623.82 z
" clip-path="url(#p1869de663b)" style="fill: #008000; opacity: 0.4"/>
   </g>
   <g id="patch_176">
    <path d="M 862.538202 630.744 L 867.689918 630.744 L 867.689918 623.82 L 862.538202 623.82 z
" clip-path="url(#p1869de663b)" style="fill: #008000; opacity: 0.4"/>
   </g>
   <g id="patch_177">
    <path d="M 867.904573 630.744 L 873.056289 630.744 L 873.056289 623.82 L 867.904573 623.82 z
" clip-path="url(#p1869de663b)" style="fill: #008000; opacity: 0.4"/>
   </g>
   <g id="patch_178">
    <path d="M 873.270944 630.744 L 878.422661 630.744 L 878.422661 623.82 L 873.270944 623.82 z
" clip-path="url(#p1869de663b)" style="fill: #008000; opacity: 0.4"/>
   </g>
   <g id="patch_179">
    <path d="M 878.637315 630.744 L 883.789032 630.744 L 883.789032 623.82 L 878.637315 623.82 z
" clip-path="url(#p1869de663b)" style="fill: #008000; opacity: 0.4"/>
   </g>
   <g id="patch_180">
    <path d="M 884.003687 630.744 L 889.155403 630.744 L 889.155403 623.82 L 884.003687 623.82 z
" clip-path="url(#p1869de663b)" style="fill: #008000; opacity: 0.4"/>
   </g>
   <g id="patch_181">
    <path d="M 889.370058 630.744 L 894.521774 630.744 L 894.521774 623.82 L 889.370058 623.82 z
" clip-path="url(#p1869de663b)" style="fill: #008000; opacity: 0.4"/>
   </g>
   <g id="patch_182">
    <path d="M 894.736429 630.744 L 899.888146 630.744 L 899.888146 623.82 L 894.736429 623.82 z
" clip-path="url(#p1869de663b)" style="fill: #008000; opacity: 0.4"/>
   </g>
   <g id="patch_183">
    <path d="M 900.1028 630.744 L 905.254517 630.744 L 905.254517 603.048 L 900.1028 603.048 z
" clip-path="url(#p1869de663b)" style="fill: #008000; opacity: 0.4"/>
   </g>
   <g id="patch_184">
    <path d="M 905.469172 630.744 L 910.620888 630.744 L 910.620888 603.048 L 905.469172 603.048 z
" clip-path="url(#p1869de663b)" style="fill: #008000; opacity: 0.4"/>
   </g>
   <g id="patch_185">
    <path d="M 910.835543 630.744 L 915.987259 630.744 L 915.987259 603.048 L 910.835543 603.048 z
" clip-path="url(#p1869de663b)" style="fill: #008000; opacity: 0.4"/>
   </g>
   <g id="patch_186">
    <path d="M 916.201914 630.744 L 921.353631 630.744 L 921.353631 603.048 L 916.201914 603.048 z
" clip-path="url(#p1869de663b)" style="fill: #008000; opacity: 0.4"/>
   </g>
   <g id="patch_187">
    <path d="M 921.568286 630.744 L 926.720002 630.744 L 926.720002 603.048 L 921.568286 603.048 z
" clip-path="url(#p1869de663b)" style="fill: #008000; opacity: 0.4"/>
   </g>
   <g id="patch_188">
    <path d="M 926.934657 630.744 L 932.086373 630.744 L 932.086373 603.048 L 926.934657 603.048 z
" clip-path="url(#p1869de663b)" style="fill: #008000; opacity: 0.4"/>
   </g>
   <g id="patch_189">
    <path d="M 932.301028 630.744 L 937.452744 630.744 L 937.452744 603.048 L 932.301028 603.048 z
" clip-path="url(#p1869de663b)" style="fill: #008000; opacity: 0.4"/>
   </g>
   <g id="patch_190">
    <path d="M 937.667399 630.744 L 942.819116 630.744 L 942.819116 603.048 L 937.667399 603.048 z
" clip-path="url(#p1869de663b)" style="fill: #008000; opacity: 0.4"/>
   </g>
   <g id="patch_191">
    <path d="M 943.033771 630.744 L 948.185487 630.744 L 948.185487 603.048 L 943.033771 603.048 z
" clip-path="url(#p1869de663b)" style="fill: #008000; opacity: 0.4"/>
   </g>
   <g id="patch_192">
    <path d="M 948.400142 630.744 L 953.551858 630.744 L 953.551858 603.048 L 948.400142 603.048 z
" clip-path="url(#p1869de663b)" style="fill: #008000; opacity: 0.4"/>
   </g>
   <g id="matplotlib.axis_5">
    <g id="ytick_16">
     <g id="line2d_63">
      <defs>
       <path id="mc0a366a576" d="M 0 0 L 3.5 0 " style="stroke: #000000; stroke-width: 0.8"/>
      </defs>
      <g>
       <use href="#mc0a366a576" x="950.976" y="630.744" style="stroke: #000000; stroke-width: 0.8"/>
      </g>
     </g>
     <g id="text_33">
      <text style='font-size: 10.500px; font-family: "Liberation Sans", sans-serif; text-anchor: start; fill: #008000' x="957.976" y="634.704" transform="rotate(-0 957.976 634.704)" textLength="6.362" lengthAdjust="spacingAndGlyphs">0</text>
     </g>
    </g>
    <g id="ytick_17">
     <g id="line2d_64">
      <g>
       <use href="#mc0a366a576" x="950.976" y="575.352" style="stroke: #000000; stroke-width: 0.8"/>
      </g>
     </g>
     <g id="text_34">
      <text style='font-size: 10.500px; font-family: "Liberation Sans", sans-serif; text-anchor: start; fill: #008000' x="957.976" y="579.312" transform="rotate(-0 957.976 579.312)" textLength="12.725" lengthAdjust="spacingAndGlyphs">20</text>
     </g>
    </g>
    <g id="ytick_18">
     <g id="line2d_65">
      <g>
       <use href="#mc0a366a576" x="950.976" y="519.96" style="stroke: #000000; stroke-width: 0.8"/>
      </g>
     </g>
     <g id="text_35">
      <text style='font-size: 10.500px; font-family: "Liberation Sans", sans-serif; text-anchor: start; fill: #008000' x="957.976" y="523.92" transform="rotate(-0 957.976 523.92)" textLength="12.725" lengthAdjust="spacingAndGlyphs">40</text>
     </g>
    </g>
    <g id="ytick_19">
     <g id="line2d_66">
      <g>
       <use href="#mc0a366a576" x="950.976" y="464.568" style="stroke: #000000; stroke-width: 0.8"/>
      </g>
     </g>
     <g id="text_36">
      <text style='font-size: 10.500px; font-family: "Liberation Sans", sans-serif; text-anchor: start; fill: #008000' x="957.976" y="468.528" transform="rotate(-0 957.976 468.528)" textLength="12.725" lengthAdjust="spacingAndGlyphs">60</text>
     </g>
    </g>
    <g id="ytick_20">
     <g id="line2d_67">
      <g>
       <use href="#mc0a366a576" x="950.976" y="409.176" style="stroke: #000000; stroke-width: 0.8"/>
      </g>
     </g>
     <g id="text_37">
      <text style='font-size: 10.500px; font-family: "Liberation Sans", sans-serif; text-anchor: start; fill: #008000' x="957.976" y="413.136" transform="rotate(-0 957.976 413.136)" textLength="12.725" lengthAdjust="spacingAndGlyphs">80</text>
     </g>
    </g>
    <g id="ytick_21">
     <g id="line2d_68">
      <g>
       <use href="#mc0a366a576" x="950.976" y="353.784" style="stroke: #000000; stroke-width: 0.8"/>
      </g>
     </g>
     <g id="text_38">
      <text style='font-size: 10.500px; font-family: "Liberation Sans", sans-serif; text-anchor: start; fill: #008000' x="957.976" y="357.744" transform="rotate(-0 957.976 357.744)" textLength="19.087" lengthAdjust="spacingAndGlyphs">100</text>
     </g>
    </g>
    <g id="text_39">
     <text style='font-weight: 700; font-size: 12.600px; font-family: "Liberation Sans", sans-serif; text-anchor: middle; fill: #008000' x="990.176" y="492.264" transform="rotate(-90 990.176 492.264)" textLength="249.623" lengthAdjust="spacingAndGlyphs">Niederschlagswahrscheinlichkeit (%)</text>
    </g>
   </g>
   <g id="patch_193">
    <path d="M 54.792 630.744 L 54.792 353.784 " style="fill: none; stroke: #000000; stroke-width: 0.8; stroke-linejoin: miter; stroke-linecap: square"/>
   </g>
   <g id="patch_194">
    <path d="M 950.976 630.744 L 950.976 353.784 " style="fill: none; stroke: #000000; stroke-width: 0.8; stroke-linejoin: miter; stroke-linecap: square"/>
   </g>
   <g id="patch_195">
    <path d="M 54.792 630.744 L 950.976 630.744 " style="fill: none; stroke: #000000; stroke-width: 0.8; stroke-linejoin: miter; stroke-linecap: square"/>
   </g>
   <g id="patch_196">
    <path d="M 54.792 353.784 L 950.976 353.784 " style="fill: none; stroke: #000000; stroke-width: 0.8; stroke-linejoin: miter; stroke-linecap: square"/>
   </g>
  </g>
  <g id="text_40">
   <text style='font-weight: 700; font-size: 16.800px; font-family: "Liberation Sans", sans-serif; text-anchor: middle' x="500.76" y="19.68" transform="rotate(-0 500.76 19.68)" textLength="310.540" lengthAdjust="spacingAndGlyphs">Ensemble Vorhersage (DWD ICON)</text>
  </g>
  <g id="text_41">
   <text style='font-size: 9.450px; font-family: "Liberation Sans", sans-serif; text-anchor: end; fill: #d0d0d0' x="994.32" y="703.68" transform="rotate(-0 994.32 703.68)" textLength="135.036" lengthAdjust="spacingAndGlyphs">Erstellt am: 25.02.2026 22:41</text>
  </g>
 </g>
 <defs>
  <clipPath id="p4535d0e13f">
   <rect x="54.792" y="45.624" width="896.184" height="276.984"/>
  </clipPath>
  <clipPath id="p49764ec67e">
   <rect x="54.792" y="353.784" width="896.184" height="276.96"/>
  </clipPath>
  <clipPath id="p1869de663b">
   <rect x="54.792" y="353.784" width="896.184" height="276.96"/>
  </clipPath>
 </defs>
</svg>

</body></html>
